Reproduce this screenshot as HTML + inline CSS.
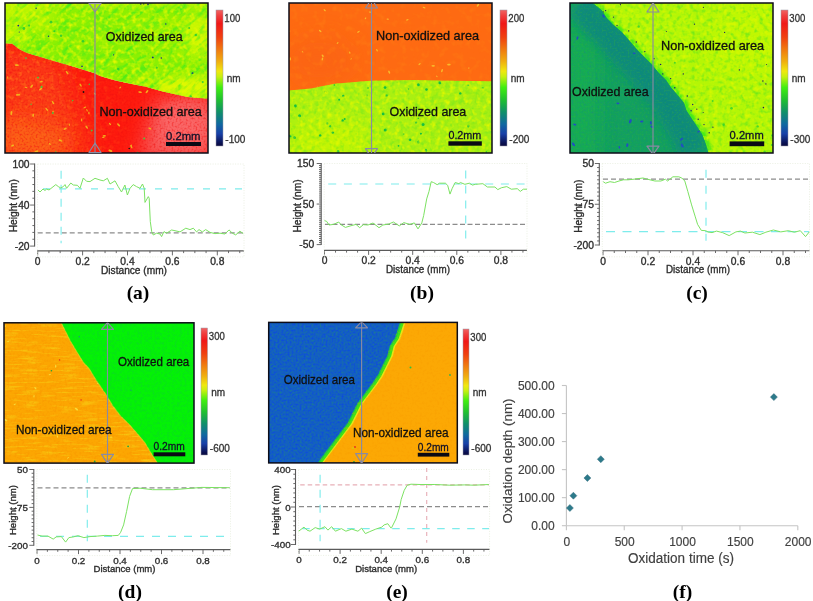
<!DOCTYPE html>
<html><head><meta charset="utf-8"><title>AFM oxidation figure</title>
<style>html,body{margin:0;padding:0;background:#fff;} svg{display:block;filter:blur(0.3px);}</style></head>
<body><svg width="813" height="601" viewBox="0 0 813 601">
<defs><clipPath id="fa"><rect x="5" y="3" width="203" height="150"/></clipPath><clipPath id="fa_top"><polygon points="5,3 208,3 208.0,98.6 205.5,98.6 188.0,97.0 174.0,94.0 161.0,91.0 147.0,87.0 127.0,83.0 113.5,80.0 100.0,76.0 94.7,73.3 81.0,69.0 67.7,65.0 54.0,61.0 40.6,57.0 27.0,53.0 19.0,49.0 12.0,43.5 5.0,43.5"/></clipPath><clipPath id="fa_bot"><polygon points="5.0,43.5 12.0,43.5 19.0,49.0 27.0,53.0 40.6,57.0 54.0,61.0 67.7,65.0 81.0,69.0 94.7,73.3 100.0,76.0 113.5,80.0 127.0,83.0 147.0,87.0 161.0,91.0 174.0,94.0 188.0,97.0 205.5,98.6 208.0,98.6 208,153 5,153"/></clipPath><filter id="bl12" x="-50%" y="-50%" width="200%" height="200%"><feGaussianBlur stdDeviation="12"/></filter><filter id="bl10" x="-50%" y="-50%" width="200%" height="200%"><feGaussianBlur stdDeviation="10"/></filter><filter id="bl6" x="-50%" y="-50%" width="200%" height="200%"><feGaussianBlur stdDeviation="6"/></filter><filter id="bl3" x="-50%" y="-50%" width="200%" height="200%"><feGaussianBlur stdDeviation="3"/></filter><filter id="bl8" x="-50%" y="-50%" width="200%" height="200%"><feGaussianBlur stdDeviation="8"/></filter><filter id="bl5" x="-50%" y="-50%" width="200%" height="200%"><feGaussianBlur stdDeviation="5"/></filter><filter id="nz1" x="0" y="0" width="1" height="1" filterUnits="objectBoundingBox" primitiveUnits="userSpaceOnUse" color-interpolation-filters="sRGB"><feTurbulence type="fractalNoise" baseFrequency="0.06 0.25" numOctaves="2" seed="3" result="n"/><feColorMatrix in="n" type="matrix" values="0 0 0 0 0.282 0 0 0 0 0.925 0 0 0 0 0.094 2.4 0 0 0 -1.05"/></filter><filter id="nz2" x="0" y="0" width="1" height="1" filterUnits="objectBoundingBox" primitiveUnits="userSpaceOnUse" color-interpolation-filters="sRGB"><feTurbulence type="fractalNoise" baseFrequency="0.22" numOctaves="2" seed="7" result="n"/><feColorMatrix in="n" type="matrix" values="0 0 0 0 0.894 0 0 0 0 0.973 0 0 0 0 0.000 2.4 0 0 0 -1.05"/></filter><linearGradient id="ma_g" gradientUnits="userSpaceOnUse" x1="50" y1="0" x2="140" y2="0"><stop offset="0" stop-color="#fff"/><stop offset="1" stop-color="#000"/></linearGradient><mask id="ma_l" maskUnits="userSpaceOnUse" x="0" y="0" width="813" height="601"><rect x="0" y="0" width="300" height="200" fill="url(#ma_g)"/></mask><filter id="nz3" x="0" y="0" width="1" height="1" filterUnits="objectBoundingBox" primitiveUnits="userSpaceOnUse" color-interpolation-filters="sRGB"><feTurbulence type="fractalNoise" baseFrequency="0.22" numOctaves="2" seed="11" result="n"/><feColorMatrix in="n" type="matrix" values="0 0 0 0 1.000 0 0 0 0 0.408 0 0 0 0 0.094 2.2 0 0 0 -1.05"/></filter><filter id="nz4" x="0" y="0" width="1" height="1" filterUnits="objectBoundingBox" primitiveUnits="userSpaceOnUse" color-interpolation-filters="sRGB"><feTurbulence type="fractalNoise" baseFrequency="0.5" numOctaves="2" seed="13" result="n"/><feColorMatrix in="n" type="matrix" values="0 0 0 0 0.941 0 0 0 0 0.063 0 0 0 0 0.063 2.2 0 0 0 -1.0"/></filter><linearGradient id="cba" x1="0" y1="0" x2="0" y2="1"><stop offset="0" stop-color="#f06464"/><stop offset="0.04" stop-color="#f04040"/><stop offset="0.1" stop-color="#f01818"/><stop offset="0.2" stop-color="#f04010"/><stop offset="0.29" stop-color="#f07a10"/><stop offset="0.38" stop-color="#f0b010"/><stop offset="0.45" stop-color="#f0e810"/><stop offset="0.49" stop-color="#c8f010"/><stop offset="0.57" stop-color="#40ee10"/><stop offset="0.66" stop-color="#20c030"/><stop offset="0.75" stop-color="#109068"/><stop offset="0.84" stop-color="#1068a0"/><stop offset="0.91" stop-color="#1840a8"/><stop offset="0.98" stop-color="#0a1050"/><stop offset="1" stop-color="#0a0a40"/></linearGradient><clipPath id="fb"><rect x="289" y="3" width="203" height="150"/></clipPath><clipPath id="fb_top"><polygon points="289,3 492,3 492.0,81.2 453.0,80.7 414.0,80.1 370.0,80.7 334.0,83.8 310.8,88.4 289.0,90.5"/></clipPath><clipPath id="fb_bot"><polygon points="289.0,90.5 310.8,88.4 334.0,83.8 370.0,80.7 414.0,80.1 453.0,80.7 492.0,81.2 492,153 289,153"/></clipPath><filter id="nz5" x="0" y="0" width="1" height="1" filterUnits="objectBoundingBox" primitiveUnits="userSpaceOnUse" color-interpolation-filters="sRGB"><feTurbulence type="fractalNoise" baseFrequency="0.2" numOctaves="2" seed="21" result="n"/><feColorMatrix in="n" type="matrix" values="0 0 0 0 0.376 0 0 0 0 0.894 0 0 0 0 0.125 2.2 0 0 0 -1.0"/></filter><filter id="nz6" x="0" y="0" width="1" height="1" filterUnits="objectBoundingBox" primitiveUnits="userSpaceOnUse" color-interpolation-filters="sRGB"><feTurbulence type="fractalNoise" baseFrequency="0.22" numOctaves="2" seed="22" result="n"/><feColorMatrix in="n" type="matrix" values="0 0 0 0 0.878 0 0 0 0 0.973 0 0 0 0 0.000 2.4 0 0 0 -1.1"/></filter><filter id="nz7" x="0" y="0" width="1" height="1" filterUnits="objectBoundingBox" primitiveUnits="userSpaceOnUse" color-interpolation-filters="sRGB"><feTurbulence type="fractalNoise" baseFrequency="0.15" numOctaves="2" seed="23" result="n"/><feColorMatrix in="n" type="matrix" values="0 0 0 0 1.000 0 0 0 0 0.478 0 0 0 0 0.078 2.4 0 0 0 -1.2"/></filter><linearGradient id="cbb" x1="0" y1="0" x2="0" y2="1"><stop offset="0" stop-color="#f06464"/><stop offset="0.04" stop-color="#f04040"/><stop offset="0.1" stop-color="#f01818"/><stop offset="0.2" stop-color="#f04010"/><stop offset="0.29" stop-color="#f07a10"/><stop offset="0.38" stop-color="#f0b010"/><stop offset="0.45" stop-color="#f0e810"/><stop offset="0.49" stop-color="#c8f010"/><stop offset="0.57" stop-color="#40ee10"/><stop offset="0.66" stop-color="#20c030"/><stop offset="0.75" stop-color="#109068"/><stop offset="0.84" stop-color="#1068a0"/><stop offset="0.91" stop-color="#1840a8"/><stop offset="0.98" stop-color="#0a1050"/><stop offset="1" stop-color="#0a0a40"/></linearGradient><clipPath id="fc"><rect x="570" y="3" width="203" height="150"/></clipPath><clipPath id="fc_l"><polygon points="570,3 592.5,3.0 601.5,10.3 606.7,18.0 613.0,24.5 622.0,32.2 629.9,41.2 637.6,50.3 645.3,58.0 651.8,64.4 658.2,72.2 666.0,80.0 671.0,87.6 678.8,96.6 684.0,103.0 686.6,110.8 691.7,118.6 696.9,126.3 702.0,134.0 705.9,144.3 708.5,153.0 570,153"/></clipPath><filter id="bl1_2" x="-50%" y="-50%" width="200%" height="200%"><feGaussianBlur stdDeviation="1.2"/></filter><clipPath id="fc_r"><polygon points="592.5,3.0 601.5,10.3 606.7,18.0 613.0,24.5 622.0,32.2 629.9,41.2 637.6,50.3 645.3,58.0 651.8,64.4 658.2,72.2 666.0,80.0 671.0,87.6 678.8,96.6 684.0,103.0 686.6,110.8 691.7,118.6 696.9,126.3 702.0,134.0 705.9,144.3 708.5,153.0 773,153 773,3"/></clipPath><filter id="nz8" x="0" y="0" width="1" height="1" filterUnits="objectBoundingBox" primitiveUnits="userSpaceOnUse" color-interpolation-filters="sRGB"><feTurbulence type="fractalNoise" baseFrequency="0.22" numOctaves="2" seed="31" result="n"/><feColorMatrix in="n" type="matrix" values="0 0 0 0 0.439 0 0 0 0 0.910 0 0 0 0 0.094 2.4 0 0 0 -1.1"/></filter><filter id="nz9" x="0" y="0" width="1" height="1" filterUnits="objectBoundingBox" primitiveUnits="userSpaceOnUse" color-interpolation-filters="sRGB"><feTurbulence type="fractalNoise" baseFrequency="0.22" numOctaves="2" seed="32" result="n"/><feColorMatrix in="n" type="matrix" values="0 0 0 0 0.847 0 0 0 0 0.973 0 0 0 0 0.000 2.4 0 0 0 -1.1"/></filter><filter id="nz10" x="0" y="0" width="1" height="1" filterUnits="objectBoundingBox" primitiveUnits="userSpaceOnUse" color-interpolation-filters="sRGB"><feTurbulence type="fractalNoise" baseFrequency="0.5" numOctaves="2" seed="33" result="n"/><feColorMatrix in="n" type="matrix" values="0 0 0 0 0.102 0 0 0 0 0.533 0 0 0 0 0.533 2.2 0 0 0 -0.95"/></filter><filter id="nz11" x="0" y="0" width="1" height="1" filterUnits="objectBoundingBox" primitiveUnits="userSpaceOnUse" color-interpolation-filters="sRGB"><feTurbulence type="fractalNoise" baseFrequency="0.5" numOctaves="2" seed="34" result="n"/><feColorMatrix in="n" type="matrix" values="0 0 0 0 0.188 0 0 0 0 0.690 0 0 0 0 0.251 2.2 0 0 0 -1.0"/></filter><linearGradient id="cbc" x1="0" y1="0" x2="0" y2="1"><stop offset="0" stop-color="#f06464"/><stop offset="0.04" stop-color="#f04040"/><stop offset="0.1" stop-color="#f01818"/><stop offset="0.2" stop-color="#f04010"/><stop offset="0.29" stop-color="#f07a10"/><stop offset="0.38" stop-color="#f0b010"/><stop offset="0.45" stop-color="#f0e810"/><stop offset="0.49" stop-color="#c8f010"/><stop offset="0.57" stop-color="#40ee10"/><stop offset="0.66" stop-color="#20c030"/><stop offset="0.75" stop-color="#109068"/><stop offset="0.84" stop-color="#1068a0"/><stop offset="0.91" stop-color="#1840a8"/><stop offset="0.98" stop-color="#0a1050"/><stop offset="1" stop-color="#0a0a40"/></linearGradient><clipPath id="fd"><rect x="4" y="322.8" width="190" height="140.3"/></clipPath><clipPath id="fd_r"><polygon points="61.2,322.8 65.0,330.5 70.0,340.5 77.4,353.0 83.7,363.0 88.7,368.0 96.2,380.4 104.9,393.0 112.4,405.4 119.9,415.4 129.9,425.3 138.6,435.3 144.8,442.8 152.3,455.3 157.3,463.1 194,463.1 194,322.8"/></clipPath><clipPath id="fd_l"><polygon points="4,322.8 61.2,322.8 65.0,330.5 70.0,340.5 77.4,353.0 83.7,363.0 88.7,368.0 96.2,380.4 104.9,393.0 112.4,405.4 119.9,415.4 129.9,425.3 138.6,435.3 144.8,442.8 152.3,455.3 157.3,463.1 4,463.1"/></clipPath><filter id="nz12" x="0" y="0" width="1" height="1" filterUnits="objectBoundingBox" primitiveUnits="userSpaceOnUse" color-interpolation-filters="sRGB"><feTurbulence type="fractalNoise" baseFrequency="0.05 0.5" numOctaves="2" seed="41" result="n"/><feColorMatrix in="n" type="matrix" values="0 0 0 0 0.973 0 0 0 0 0.784 0 0 0 0 0.063 2.6 0 0 0 -1.3"/></filter><filter id="nz13" x="0" y="0" width="1" height="1" filterUnits="objectBoundingBox" primitiveUnits="userSpaceOnUse" color-interpolation-filters="sRGB"><feTurbulence type="fractalNoise" baseFrequency="0.4" numOctaves="2" seed="42" result="n"/><feColorMatrix in="n" type="matrix" values="0 0 0 0 0.973 0 0 0 0 0.565 0 0 0 0 0.000 2.2 0 0 0 -1.05"/></filter><filter id="nz14" x="0" y="0" width="1" height="1" filterUnits="objectBoundingBox" primitiveUnits="userSpaceOnUse" color-interpolation-filters="sRGB"><feTurbulence type="fractalNoise" baseFrequency="0.4" numOctaves="2" seed="43" result="n"/><feColorMatrix in="n" type="matrix" values="0 0 0 0 0.063 0 0 0 0 0.816 0 0 0 0 0.188 2.2 0 0 0 -1.0"/></filter><linearGradient id="cbd" x1="0" y1="0" x2="0" y2="1"><stop offset="0" stop-color="#f06464"/><stop offset="0.04" stop-color="#f04040"/><stop offset="0.1" stop-color="#f01818"/><stop offset="0.2" stop-color="#f04010"/><stop offset="0.29" stop-color="#f07a10"/><stop offset="0.38" stop-color="#f0b010"/><stop offset="0.45" stop-color="#f0e810"/><stop offset="0.49" stop-color="#c8f010"/><stop offset="0.57" stop-color="#40ee10"/><stop offset="0.66" stop-color="#20c030"/><stop offset="0.75" stop-color="#109068"/><stop offset="0.84" stop-color="#1068a0"/><stop offset="0.91" stop-color="#1840a8"/><stop offset="0.98" stop-color="#0a1050"/><stop offset="1" stop-color="#0a0a40"/></linearGradient><clipPath id="fe"><rect x="268.7" y="322.4" width="188.60000000000002" height="140.5"/></clipPath><filter id="bl0_7" x="-50%" y="-50%" width="200%" height="200%"><feGaussianBlur stdDeviation="0.7"/></filter><filter id="bl0_6" x="-50%" y="-50%" width="200%" height="200%"><feGaussianBlur stdDeviation="0.6"/></filter><filter id="bl0_5" x="-50%" y="-50%" width="200%" height="200%"><feGaussianBlur stdDeviation="0.5"/></filter><clipPath id="fe_l"><polygon points="268.7,322.4 399.8,322.4 397.3,330.5 394.8,338.0 389.8,345.5 387.3,355.5 382.4,365.4 377.4,375.4 372.4,382.9 364.9,392.9 361.1,397.9 357.4,402.9 352.4,412.9 347.4,422.9 339.9,432.9 332.4,442.8 324.9,452.8 317.4,462.9 268.7,462.9"/></clipPath><filter id="nz15" x="0" y="0" width="1" height="1" filterUnits="objectBoundingBox" primitiveUnits="userSpaceOnUse" color-interpolation-filters="sRGB"><feTurbulence type="fractalNoise" baseFrequency="0.5" numOctaves="2" seed="51" result="n"/><feColorMatrix in="n" type="matrix" values="0 0 0 0 0.094 0 0 0 0 0.455 0 0 0 0 0.627 2.4 0 0 0 -0.95"/></filter><filter id="nz16" x="0" y="0" width="1" height="1" filterUnits="objectBoundingBox" primitiveUnits="userSpaceOnUse" color-interpolation-filters="sRGB"><feTurbulence type="fractalNoise" baseFrequency="0.5" numOctaves="2" seed="52" result="n"/><feColorMatrix in="n" type="matrix" values="0 0 0 0 0.047 0 0 0 0 0.298 0 0 0 0 0.863 2.4 0 0 0 -0.95"/></filter><clipPath id="fe_r"><polygon points="399.8,322.4 397.3,330.5 394.8,338.0 389.8,345.5 387.3,355.5 382.4,365.4 377.4,375.4 372.4,382.9 364.9,392.9 361.1,397.9 357.4,402.9 352.4,412.9 347.4,422.9 339.9,432.9 332.4,442.8 324.9,452.8 317.4,462.9 457.3,462.9 457.3,322.4"/></clipPath><filter id="nz17" x="0" y="0" width="1" height="1" filterUnits="objectBoundingBox" primitiveUnits="userSpaceOnUse" color-interpolation-filters="sRGB"><feTurbulence type="fractalNoise" baseFrequency="0.4" numOctaves="2" seed="53" result="n"/><feColorMatrix in="n" type="matrix" values="0 0 0 0 0.973 0 0 0 0 0.604 0 0 0 0 0.000 2.2 0 0 0 -1.1"/></filter><linearGradient id="cbe" x1="0" y1="0" x2="0" y2="1"><stop offset="0" stop-color="#f06464"/><stop offset="0.04" stop-color="#f04040"/><stop offset="0.1" stop-color="#f01818"/><stop offset="0.2" stop-color="#f04010"/><stop offset="0.29" stop-color="#f07a10"/><stop offset="0.38" stop-color="#f0b010"/><stop offset="0.45" stop-color="#f0e810"/><stop offset="0.49" stop-color="#c8f010"/><stop offset="0.57" stop-color="#40ee10"/><stop offset="0.66" stop-color="#20c030"/><stop offset="0.75" stop-color="#109068"/><stop offset="0.84" stop-color="#1068a0"/><stop offset="0.91" stop-color="#1840a8"/><stop offset="0.98" stop-color="#0a1050"/><stop offset="1" stop-color="#0a0a40"/></linearGradient></defs>
<rect width="813" height="601" fill="#fff"/>
<g clip-path="url(#fa_bot)">
<rect x="5" y="3" width="203" height="150" fill="#fe1a0e"/>
<polygon points="0.0,40.0 60.0,60.0 90.0,153.0 0.0,160.0" fill="#fc3a14" opacity="1" filter="url(#bl12)"/>
<polygon points="0.0,115.0 60.0,125.0 75.0,160.0 0.0,160.0" fill="#fc6218" opacity="1" filter="url(#bl10)"/>
<polygon points="155.0,100.0 215.0,95.0 215.0,160.0 140.0,160.0" fill="#f86262" opacity="1" filter="url(#bl10)"/>
<ellipse cx="185" cy="125" rx="25" ry="22" fill="#fa6868" opacity="0.8" filter="url(#bl6)"/>
</g>
<g clip-path="url(#fa_top)">
<rect x="5" y="3" width="203" height="150" fill="#8cf002"/>
<polygon points="0.0,0.0 215.0,0.0 215.0,6.0 0.0,6.0" fill="#d8f800" opacity="0.8" filter="url(#bl3)"/>
<ellipse cx="25" cy="15" rx="30" ry="14" fill="#c8f602" opacity="0.9" filter="url(#bl8)"/>
<ellipse cx="15" cy="38" rx="15" ry="8" fill="#d0f800" opacity="0.8" filter="url(#bl5)"/>
<ellipse cx="198" cy="35" rx="18" ry="22" fill="#d4f802" opacity="0.9" filter="url(#bl8)"/>
<ellipse cx="185" cy="88" rx="35" ry="12" fill="#e4f800" opacity="0.95" filter="url(#bl6)"/>
<ellipse cx="150" cy="80" rx="20" ry="6" fill="#c0f404" opacity="0.7" filter="url(#bl5)"/>
<ellipse cx="150" cy="30" rx="25" ry="12" fill="#a8f204" opacity="0.6" filter="url(#bl8)"/>
</g>
<g clip-path="url(#fa_top)"><g><rect x="-35" y="-37" width="283" height="230" fill="#fff" filter="url(#nz1)" opacity="1.0" transform="rotate(-40 106.5 78.0)"/></g></g>
<g clip-path="url(#fa_top)"><g><rect x="5" y="3" width="203" height="150" fill="#fff" filter="url(#nz2)" opacity="1.0"/></g></g>
<g clip-path="url(#fa_bot)"><g mask="url(#ma_l)"><rect x="5" y="3" width="203" height="150" fill="#fff" filter="url(#nz3)" opacity="1.0"/></g></g>
<g clip-path="url(#fa_bot)"><g><rect x="5" y="3" width="203" height="150" fill="#fff" filter="url(#nz4)" opacity="0.7"/></g></g>
<g clip-path="url(#fa_top)" fill="#183080" opacity="1.0"><circle cx="192.6" cy="73.1" r="0.9"/><circle cx="48.5" cy="36.3" r="0.7"/><circle cx="19.3" cy="32.0" r="0.6"/><circle cx="161.3" cy="58.0" r="0.8"/><circle cx="71.2" cy="98.6" r="0.8"/><circle cx="47.3" cy="67.5" r="0.7"/><circle cx="27.5" cy="126.5" r="0.9"/><circle cx="140.0" cy="135.4" r="0.8"/><circle cx="82.0" cy="66.4" r="0.8"/><circle cx="140.8" cy="4.0" r="0.8"/><circle cx="113.6" cy="54.8" r="0.6"/><circle cx="148.0" cy="4.4" r="0.8"/><circle cx="36.1" cy="8.2" r="0.7"/><circle cx="18.3" cy="25.6" r="0.9"/><circle cx="152.8" cy="57.4" r="0.9"/><circle cx="101.5" cy="77.8" r="1.0"/><circle cx="68.2" cy="133.5" r="0.9"/><circle cx="143.7" cy="3.9" r="0.6"/><circle cx="11.5" cy="54.9" r="1.0"/><circle cx="148.3" cy="119.2" r="0.9"/><circle cx="165.8" cy="24.0" r="0.7"/><circle cx="95.6" cy="136.4" r="0.7"/></g>
<g clip-path="url(#fa_top)" fill="#20c838" opacity="0.8"><circle cx="35.1" cy="95.4" r="0.9"/><circle cx="149.6" cy="94.2" r="1.1"/><circle cx="130.4" cy="87.9" r="0.8"/><circle cx="112.6" cy="95.9" r="1.2"/><circle cx="51.0" cy="22.2" r="1.4"/><circle cx="145.0" cy="94.4" r="1.2"/><circle cx="34.5" cy="96.2" r="1.3"/><circle cx="72.6" cy="106.1" r="1.2"/><circle cx="156.8" cy="67.7" r="1.1"/><circle cx="189.2" cy="28.1" r="1.0"/><circle cx="124.5" cy="97.7" r="1.1"/><circle cx="118.3" cy="69.1" r="1.3"/><circle cx="100.4" cy="145.1" r="1.2"/><circle cx="132.0" cy="133.3" r="1.3"/><circle cx="84.3" cy="114.5" r="1.3"/><circle cx="190.7" cy="96.5" r="1.2"/><circle cx="202.7" cy="82.1" r="1.1"/><circle cx="19.7" cy="131.7" r="1.5"/><circle cx="83.0" cy="41.2" r="1.3"/><circle cx="195.8" cy="35.0" r="1.2"/><circle cx="34.0" cy="75.0" r="1.0"/><circle cx="21.4" cy="61.4" r="0.9"/><circle cx="29.1" cy="25.6" r="1.1"/><circle cx="69.5" cy="112.2" r="1.1"/><circle cx="54.4" cy="31.2" r="1.0"/><circle cx="176.1" cy="99.4" r="1.0"/><circle cx="23.9" cy="28.5" r="1.4"/><circle cx="84.1" cy="128.6" r="1.6"/><circle cx="191.6" cy="73.4" r="0.8"/><circle cx="61.1" cy="35.8" r="1.3"/></g>
<g clip-path="url(#fa_bot)" fill="#f0d820" opacity="0.75"><ellipse cx="147.0" cy="91.6" rx="1.9" ry="0.9" transform="rotate(132 147.0 91.6)"/><ellipse cx="36.2" cy="48.8" rx="1.8" ry="0.8" transform="rotate(22 36.2 48.8)"/><ellipse cx="60.4" cy="140.5" rx="2.1" ry="0.9" transform="rotate(21 60.4 140.5)"/><ellipse cx="16.9" cy="65.1" rx="2.0" ry="0.9" transform="rotate(4 16.9 65.1)"/><ellipse cx="37.7" cy="52.1" rx="1.2" ry="0.6" transform="rotate(94 37.7 52.1)"/><ellipse cx="31.6" cy="86.3" rx="1.9" ry="0.9" transform="rotate(130 31.6 86.3)"/><ellipse cx="65.2" cy="128.8" rx="1.7" ry="0.8" transform="rotate(149 65.2 128.8)"/><ellipse cx="41.1" cy="81.7" rx="1.7" ry="0.8" transform="rotate(170 41.1 81.7)"/><ellipse cx="94.7" cy="93.6" rx="1.4" ry="0.6" transform="rotate(51 94.7 93.6)"/><ellipse cx="36.3" cy="151.5" rx="2.1" ry="0.9" transform="rotate(161 36.3 151.5)"/><ellipse cx="81.6" cy="120.0" rx="1.4" ry="0.6" transform="rotate(87 81.6 120.0)"/><ellipse cx="26.1" cy="87.5" rx="1.4" ry="0.6" transform="rotate(18 26.1 87.5)"/><ellipse cx="138.3" cy="50.9" rx="2.0" ry="0.9" transform="rotate(126 138.3 50.9)"/><ellipse cx="18.1" cy="94.8" rx="2.2" ry="1.0" transform="rotate(178 18.1 94.8)"/><ellipse cx="86.7" cy="127.2" rx="1.9" ry="0.9" transform="rotate(53 86.7 127.2)"/><ellipse cx="84.7" cy="107.5" rx="1.5" ry="0.7" transform="rotate(147 84.7 107.5)"/><ellipse cx="69.4" cy="124.7" rx="1.2" ry="0.5" transform="rotate(80 69.4 124.7)"/><ellipse cx="11.4" cy="113.1" rx="2.1" ry="0.9" transform="rotate(98 11.4 113.1)"/><ellipse cx="87.0" cy="110.3" rx="1.4" ry="0.6" transform="rotate(70 87.0 110.3)"/><ellipse cx="88.9" cy="113.0" rx="1.5" ry="0.7" transform="rotate(86 88.9 113.0)"/><ellipse cx="53.0" cy="102.6" rx="1.8" ry="0.8" transform="rotate(59 53.0 102.6)"/><ellipse cx="104.3" cy="135.9" rx="1.7" ry="0.8" transform="rotate(176 104.3 135.9)"/><ellipse cx="49.9" cy="143.9" rx="1.3" ry="0.6" transform="rotate(65 49.9 143.9)"/><ellipse cx="131.3" cy="146.7" rx="1.9" ry="0.8" transform="rotate(62 131.3 146.7)"/><ellipse cx="53.2" cy="111.3" rx="1.2" ry="0.5" transform="rotate(5 53.2 111.3)"/><ellipse cx="67.2" cy="72.7" rx="2.1" ry="0.9" transform="rotate(52 67.2 72.7)"/><ellipse cx="110.0" cy="124.0" rx="1.5" ry="0.7" transform="rotate(45 110.0 124.0)"/><ellipse cx="80.6" cy="85.2" rx="1.8" ry="0.8" transform="rotate(59 80.6 85.2)"/><ellipse cx="120.2" cy="87.5" rx="1.2" ry="0.6" transform="rotate(139 120.2 87.5)"/><ellipse cx="131.4" cy="145.5" rx="1.1" ry="0.5" transform="rotate(88 131.4 145.5)"/><ellipse cx="7.8" cy="77.7" rx="1.4" ry="0.6" transform="rotate(83 7.8 77.7)"/><ellipse cx="103.2" cy="137.3" rx="1.4" ry="0.6" transform="rotate(2 103.2 137.3)"/><ellipse cx="149.9" cy="128.4" rx="1.7" ry="0.8" transform="rotate(20 149.9 128.4)"/><ellipse cx="12.6" cy="145.6" rx="1.7" ry="0.8" transform="rotate(155 12.6 145.6)"/><ellipse cx="118.6" cy="124.9" rx="2.0" ry="0.9" transform="rotate(46 118.6 124.9)"/><ellipse cx="40.7" cy="89.0" rx="1.9" ry="0.9" transform="rotate(143 40.7 89.0)"/><ellipse cx="33.2" cy="115.3" rx="1.8" ry="0.8" transform="rotate(93 33.2 115.3)"/><ellipse cx="110.4" cy="150.7" rx="2.1" ry="1.0" transform="rotate(19 110.4 150.7)"/><ellipse cx="46.7" cy="109.3" rx="1.9" ry="0.8" transform="rotate(51 46.7 109.3)"/><ellipse cx="140.0" cy="92.1" rx="1.9" ry="0.9" transform="rotate(9 140.0 92.1)"/></g>
<g clip-path="url(#fa_bot)" fill="#40d040" opacity="0.9"><circle cx="144.2" cy="138.5" r="1.0"/><circle cx="38.0" cy="77.4" r="1.0"/><circle cx="134.8" cy="53.3" r="1.0"/><circle cx="52.8" cy="112.9" r="1.0"/><circle cx="89.3" cy="84.2" r="0.8"/><circle cx="72.6" cy="100.6" r="0.8"/><circle cx="31.1" cy="104.2" r="0.7"/><circle cx="91.7" cy="130.6" r="1.0"/><circle cx="41.6" cy="86.9" r="1.1"/><circle cx="55.7" cy="152.0" r="0.8"/><circle cx="126.9" cy="44.6" r="1.0"/><circle cx="137.5" cy="152.6" r="0.8"/><circle cx="80.8" cy="44.5" r="0.9"/><circle cx="26.0" cy="58.1" r="0.9"/></g>
<g clip-path="url(#fa_bot)" fill="#201010" opacity="1.0"><circle cx="183.3" cy="79.5" r="0.8"/><circle cx="198.2" cy="75.3" r="0.8"/><circle cx="72.9" cy="58.5" r="0.7"/><circle cx="157.5" cy="56.7" r="0.8"/><circle cx="76.3" cy="59.1" r="0.7"/><circle cx="83.5" cy="92.0" r="0.9"/><circle cx="191.8" cy="65.7" r="0.9"/><circle cx="129.2" cy="148.5" r="0.8"/></g>
<rect x="5" y="3" width="203" height="150" fill="none" stroke="#0c0c18" stroke-width="1.5"/>
<g clip-path="url(#fa)">
<line x1="95" y1="3.5" x2="95" y2="152.5" stroke="#8a8aa2" stroke-width="1.15"/>
<polygon points="89,3.5 101,3.5 95,11.8" fill="none" stroke="#8a8aa2" stroke-width="1.2" stroke-linejoin="round"/>
<polygon points="89,152.5 101,152.5 95,143" fill="none" stroke="#8a8aa2" stroke-width="1.2" stroke-linejoin="round"/>
</g>
<text x="105.8" y="41.1" font-size="12.4" fill="#101010" text-anchor="start" font-family='"Liberation Sans", sans-serif' font-weight="normal" textLength="76.8" lengthAdjust="spacingAndGlyphs" stroke="#101010" stroke-width="0.3" >Oxidized area</text>
<text x="99.4" y="116.3" font-size="12.4" fill="#101010" text-anchor="start" font-family='"Liberation Sans", sans-serif' font-weight="normal" textLength="102.4" lengthAdjust="spacingAndGlyphs" stroke="#101010" stroke-width="0.3" >Non-oxidized area</text>
<rect x="166" y="142" width="35" height="4" fill="#0a0a14"/>
<text x="166" y="139.9" font-size="11.5" fill="#101028" text-anchor="start" font-family='"Liberation Sans", sans-serif' font-weight="normal" textLength="34.5" lengthAdjust="spacingAndGlyphs" stroke="#101028" stroke-width="0.3" >0.2mm</text>
<rect x="216" y="10" width="7" height="136" fill="url(#cba)" stroke="#9a9aa8" stroke-width="0.5"/>
<text x="224.3" y="21.7" font-size="10.5" fill="#333" text-anchor="start" font-family='"Liberation Sans", sans-serif' font-weight="normal" textLength="16" lengthAdjust="spacingAndGlyphs" stroke="#333" stroke-width="0.3" >100</text>
<text x="226.7" y="82.0" font-size="10" fill="#333" text-anchor="start" font-family='"Liberation Sans", sans-serif' font-weight="normal" stroke="#333" stroke-width="0.3" >nm</text>
<text x="225.3" y="142.7" font-size="10" fill="#333" text-anchor="start" font-family='"Liberation Sans", sans-serif' font-weight="normal" stroke="#333" stroke-width="0.3" >-100</text>
<rect x="289" y="3" width="203" height="150" fill="#aaf012"/>
<g clip-path="url(#fb)">
<ellipse cx="330" cy="140" rx="40" ry="20" fill="#c8f604" opacity="0.8" filter="url(#bl10)"/>
<ellipse cx="470" cy="110" rx="40" ry="20" fill="#a0ec14" opacity="0.5" filter="url(#bl10)"/>
</g>
<g clip-path="url(#fb_top)">
<rect x="289" y="3" width="203" height="150" fill="#fe6a12"/>
<ellipse cx="320" cy="60" rx="35" ry="25" fill="#fa6016" opacity="0.5" filter="url(#bl10)"/>
</g>
<g clip-path="url(#fb_bot)"><g><rect x="289" y="3" width="203" height="150" fill="#fff" filter="url(#nz5)" opacity="0.6"/></g></g>
<g clip-path="url(#fb_bot)" fill="#18c040" opacity="1.0"><circle cx="403.7" cy="134.1" r="0.8"/><circle cx="468.3" cy="126.1" r="1.3"/><circle cx="426.5" cy="89.6" r="1.3"/><circle cx="410.0" cy="139.8" r="1.4"/><circle cx="423.1" cy="124.5" r="1.5"/><circle cx="325.2" cy="92.0" r="1.3"/><circle cx="425.9" cy="150.4" r="1.3"/><circle cx="398.5" cy="145.8" r="0.9"/><circle cx="338.1" cy="151.5" r="1.3"/><circle cx="418.3" cy="118.2" r="0.8"/><circle cx="366.8" cy="95.6" r="1.0"/><circle cx="385.1" cy="87.6" r="1.4"/><circle cx="317.8" cy="80.2" r="1.2"/><circle cx="343.3" cy="96.0" r="1.3"/><circle cx="418.5" cy="142.0" r="1.5"/><circle cx="344.7" cy="119.1" r="1.0"/><circle cx="339.1" cy="99.7" r="1.0"/><circle cx="385.2" cy="130.1" r="1.5"/><circle cx="468.3" cy="85.0" r="1.0"/><circle cx="334.3" cy="85.0" r="0.8"/><circle cx="332.8" cy="132.6" r="1.2"/><circle cx="408.6" cy="89.1" r="0.8"/><circle cx="290.2" cy="135.9" r="1.4"/><circle cx="420.9" cy="133.8" r="1.1"/><circle cx="386.7" cy="95.8" r="1.4"/><circle cx="294.6" cy="137.7" r="1.4"/><circle cx="330.2" cy="126.3" r="1.1"/><circle cx="460.3" cy="93.4" r="1.2"/><circle cx="342.6" cy="120.4" r="1.2"/><circle cx="418.3" cy="84.8" r="1.5"/><circle cx="482.8" cy="88.0" r="1.1"/><circle cx="320.2" cy="135.4" r="1.2"/><circle cx="327.1" cy="123.8" r="1.4"/><circle cx="295.4" cy="106.0" r="1.4"/><circle cx="368.1" cy="88.0" r="0.9"/><circle cx="486.3" cy="152.0" r="0.8"/><circle cx="439.8" cy="82.9" r="1.4"/><circle cx="383.2" cy="113.9" r="1.4"/><circle cx="416.1" cy="122.6" r="1.1"/><circle cx="299.6" cy="115.8" r="1.5"/></g>
<g clip-path="url(#fb_bot)"><g><rect x="289" y="3" width="203" height="150" fill="#fff" filter="url(#nz6)" opacity="1.0"/></g></g>
<g clip-path="url(#fb_top)"><g><rect x="289" y="3" width="203" height="150" fill="#fff" filter="url(#nz7)" opacity="0.8"/></g></g>
<g clip-path="url(#fb_top)" fill="#f8c830" opacity="0.85"><ellipse cx="302.6" cy="51.8" rx="1.0" ry="0.5" transform="rotate(51 302.6 51.8)"/><ellipse cx="442.0" cy="70.7" rx="1.7" ry="0.8" transform="rotate(110 442.0 70.7)"/><ellipse cx="317.3" cy="88.0" rx="1.4" ry="0.7" transform="rotate(96 317.3 88.0)"/><ellipse cx="332.7" cy="107.3" rx="1.2" ry="0.6" transform="rotate(54 332.7 107.3)"/><ellipse cx="337.6" cy="43.0" rx="1.1" ry="0.6" transform="rotate(136 337.6 43.0)"/><ellipse cx="424.1" cy="7.6" rx="1.5" ry="0.7" transform="rotate(14 424.1 7.6)"/><ellipse cx="419.6" cy="64.1" rx="1.4" ry="0.7" transform="rotate(137 419.6 64.1)"/><ellipse cx="308.2" cy="90.6" rx="1.4" ry="0.7" transform="rotate(161 308.2 90.6)"/><ellipse cx="433.2" cy="65.8" rx="1.8" ry="0.9" transform="rotate(2 433.2 65.8)"/><ellipse cx="373.0" cy="129.4" rx="1.8" ry="0.9" transform="rotate(91 373.0 129.4)"/><ellipse cx="340.1" cy="91.7" rx="1.3" ry="0.6" transform="rotate(125 340.1 91.7)"/><ellipse cx="358.5" cy="31.8" rx="1.5" ry="0.7" transform="rotate(139 358.5 31.8)"/><ellipse cx="388.5" cy="91.9" rx="1.5" ry="0.7" transform="rotate(94 388.5 91.9)"/><ellipse cx="290.2" cy="58.9" rx="1.7" ry="0.8" transform="rotate(92 290.2 58.9)"/><ellipse cx="436.8" cy="76.4" rx="1.0" ry="0.5" transform="rotate(39 436.8 76.4)"/><ellipse cx="389.2" cy="72.2" rx="1.7" ry="0.8" transform="rotate(64 389.2 72.2)"/><ellipse cx="448.9" cy="64.7" rx="1.8" ry="0.9" transform="rotate(176 448.9 64.7)"/><ellipse cx="321.8" cy="125.6" rx="1.1" ry="0.5" transform="rotate(60 321.8 125.6)"/><ellipse cx="468.8" cy="68.1" rx="1.0" ry="0.5" transform="rotate(1 468.8 68.1)"/><ellipse cx="489.4" cy="131.8" rx="1.8" ry="0.9" transform="rotate(61 489.4 131.8)"/><ellipse cx="350.9" cy="105.9" rx="1.0" ry="0.5" transform="rotate(108 350.9 105.9)"/><ellipse cx="320.2" cy="31.0" rx="1.6" ry="0.8" transform="rotate(43 320.2 31.0)"/><ellipse cx="489.8" cy="103.4" rx="1.5" ry="0.7" transform="rotate(116 489.8 103.4)"/><ellipse cx="337.6" cy="146.7" rx="1.0" ry="0.5" transform="rotate(163 337.6 146.7)"/><ellipse cx="397.2" cy="93.3" rx="1.4" ry="0.7" transform="rotate(70 397.2 93.3)"/><ellipse cx="322.7" cy="55.8" rx="1.5" ry="0.8" transform="rotate(56 322.7 55.8)"/><ellipse cx="307.9" cy="130.0" rx="1.4" ry="0.7" transform="rotate(24 307.9 130.0)"/><ellipse cx="396.4" cy="85.4" rx="1.6" ry="0.8" transform="rotate(86 396.4 85.4)"/><ellipse cx="477.9" cy="5.2" rx="1.7" ry="0.9" transform="rotate(127 477.9 5.2)"/><ellipse cx="365.5" cy="18.3" rx="1.1" ry="0.6" transform="rotate(127 365.5 18.3)"/><ellipse cx="424.2" cy="82.5" rx="1.1" ry="0.5" transform="rotate(18 424.2 82.5)"/><ellipse cx="387.7" cy="19.2" rx="1.2" ry="0.6" transform="rotate(5 387.7 19.2)"/><ellipse cx="334.9" cy="85.8" rx="1.6" ry="0.8" transform="rotate(2 334.9 85.8)"/><ellipse cx="349.8" cy="52.7" rx="1.2" ry="0.6" transform="rotate(73 349.8 52.7)"/><ellipse cx="289.2" cy="31.3" rx="1.2" ry="0.6" transform="rotate(154 289.2 31.3)"/><ellipse cx="349.6" cy="106.5" rx="1.6" ry="0.8" transform="rotate(125 349.6 106.5)"/><ellipse cx="377.0" cy="50.2" rx="1.4" ry="0.7" transform="rotate(65 377.0 50.2)"/><ellipse cx="351.1" cy="58.9" rx="1.0" ry="0.5" transform="rotate(109 351.1 58.9)"/><ellipse cx="370.0" cy="12.1" rx="1.3" ry="0.6" transform="rotate(12 370.0 12.1)"/><ellipse cx="390.7" cy="85.5" rx="1.8" ry="0.9" transform="rotate(27 390.7 85.5)"/><ellipse cx="405.1" cy="121.7" rx="1.2" ry="0.6" transform="rotate(82 405.1 121.7)"/><ellipse cx="407.3" cy="19.8" rx="1.4" ry="0.7" transform="rotate(163 407.3 19.8)"/><ellipse cx="337.4" cy="104.5" rx="1.3" ry="0.6" transform="rotate(165 337.4 104.5)"/><ellipse cx="353.5" cy="132.9" rx="1.6" ry="0.8" transform="rotate(69 353.5 132.9)"/><ellipse cx="434.0" cy="138.1" rx="1.6" ry="0.8" transform="rotate(51 434.0 138.1)"/><ellipse cx="312.7" cy="92.1" rx="1.6" ry="0.8" transform="rotate(110 312.7 92.1)"/><ellipse cx="336.6" cy="101.1" rx="1.6" ry="0.8" transform="rotate(70 336.6 101.1)"/><ellipse cx="292.8" cy="145.8" rx="1.6" ry="0.8" transform="rotate(24 292.8 145.8)"/><ellipse cx="322.4" cy="59.0" rx="1.5" ry="0.7" transform="rotate(105 322.4 59.0)"/><ellipse cx="373.6" cy="131.6" rx="1.4" ry="0.7" transform="rotate(107 373.6 131.6)"/><ellipse cx="431.4" cy="128.8" rx="1.1" ry="0.6" transform="rotate(15 431.4 128.8)"/><ellipse cx="384.6" cy="127.8" rx="1.7" ry="0.9" transform="rotate(97 384.6 127.8)"/><ellipse cx="319.2" cy="99.0" rx="1.7" ry="0.8" transform="rotate(135 319.2 99.0)"/><ellipse cx="324.7" cy="10.2" rx="1.4" ry="0.7" transform="rotate(43 324.7 10.2)"/><ellipse cx="354.3" cy="115.3" rx="1.6" ry="0.8" transform="rotate(103 354.3 115.3)"/></g>
<rect x="289" y="3" width="203" height="150" fill="none" stroke="#0c0c18" stroke-width="1.5"/>
<g clip-path="url(#fb)">
<line x1="371.5" y1="-1" x2="371.5" y2="157.5" stroke="#8a8aa2" stroke-width="1.15"/>
<polygon points="365.5,8 377.5,8 371.5,-1" fill="none" stroke="#8a8aa2" stroke-width="1.2" stroke-linejoin="round"/>
<polygon points="365.5,148.6 377.5,148.6 371.5,157.5" fill="none" stroke="#8a8aa2" stroke-width="1.2" stroke-linejoin="round"/>
</g>
<text x="376" y="40.4" font-size="12.4" fill="#101010" text-anchor="start" font-family='"Liberation Sans", sans-serif' font-weight="normal" textLength="103" lengthAdjust="spacingAndGlyphs" stroke="#101010" stroke-width="0.3" >Non-oxidized area</text>
<text x="389.5" y="115.5" font-size="12.4" fill="#101010" text-anchor="start" font-family='"Liberation Sans", sans-serif' font-weight="normal" textLength="76.8" lengthAdjust="spacingAndGlyphs" stroke="#101010" stroke-width="0.3" >Oxidized area</text>
<rect x="448.4" y="141.3" width="33.400000000000034" height="4.399999999999977" fill="#0a0a14"/>
<text x="448.4" y="139.20000000000002" font-size="11.5" fill="#101028" text-anchor="start" font-family='"Liberation Sans", sans-serif' font-weight="normal" textLength="32.900000000000034" lengthAdjust="spacingAndGlyphs" stroke="#101028" stroke-width="0.3" >0.2mm</text>
<rect x="500" y="10" width="7" height="136" fill="url(#cbb)" stroke="#9a9aa8" stroke-width="0.5"/>
<text x="508.3" y="21.7" font-size="10.5" fill="#333" text-anchor="start" font-family='"Liberation Sans", sans-serif' font-weight="normal" textLength="16" lengthAdjust="spacingAndGlyphs" stroke="#333" stroke-width="0.3" >200</text>
<text x="510.7" y="82.0" font-size="10" fill="#333" text-anchor="start" font-family='"Liberation Sans", sans-serif' font-weight="normal" stroke="#333" stroke-width="0.3" >nm</text>
<text x="509.3" y="142.7" font-size="10" fill="#333" text-anchor="start" font-family='"Liberation Sans", sans-serif' font-weight="normal" stroke="#333" stroke-width="0.3" >-200</text>
<rect x="570" y="3" width="203" height="150" fill="#b4f606"/>
<g clip-path="url(#fc)">
<polyline points="594.0,3.0 603.0,10.3 608.2,18.0 614.5,24.5 623.5,32.2 631.4,41.2 639.1,50.3 646.8,58.0 653.3,64.4 659.7,72.2 667.5,80.0 672.5,87.6 680.3,96.6 685.5,103.0 688.1,110.8 693.2,118.6 698.4,126.3 703.5,134.0 707.4,144.3 710.0,153.0" fill="none" stroke="#44ec14" stroke-width="5" filter="url(#bl1_2)"/>
<ellipse cx="750" cy="40" rx="40" ry="40" fill="#c4f804" opacity="0.8" filter="url(#bl12)"/>
</g>
<g clip-path="url(#fc_r)"><g><rect x="570" y="3" width="203" height="150" fill="#fff" filter="url(#nz8)" opacity="1.0"/></g></g>
<g clip-path="url(#fc_r)"><g><rect x="570" y="3" width="203" height="150" fill="#fff" filter="url(#nz9)" opacity="1.0"/></g></g>
<g clip-path="url(#fc_l)">
<rect x="570" y="3" width="203" height="150" fill="#12a25e"/>
<polygon points="560.0,0.0 600.0,0.0 600.0,160.0 560.0,160.0" fill="#12ae52" opacity="0.9" filter="url(#bl8)"/>
<ellipse cx="590" cy="10" rx="25" ry="14" fill="#14b250" opacity="0.8" filter="url(#bl6)"/>
<polyline points="576.5,3.0 585.5,10.3 590.7,18.0 597.0,24.5 606.0,32.2 613.9,41.2 621.6,50.3 629.3,58.0 635.8,64.4 642.2,72.2 650.0,80.0 655.0,87.6 662.8,96.6 668.0,103.0 670.6,110.8 675.7,118.6 680.9,126.3 686.0,134.0 689.9,144.3 692.5,153.0" fill="none" stroke="#0a8a7e" stroke-width="30" filter="url(#bl5)" opacity="0.95"/>
</g>
<g clip-path="url(#fc_l)"><g><rect x="570" y="3" width="203" height="150" fill="#fff" filter="url(#nz10)" opacity="0.5"/></g></g>
<g clip-path="url(#fc_l)"><g><rect x="570" y="3" width="203" height="150" fill="#fff" filter="url(#nz11)" opacity="0.5"/></g></g>
<g clip-path="url(#fc_l)" fill="#2050c0" opacity="1.0"><ellipse cx="650.9" cy="122.9" rx="1.8" ry="1.0" transform="rotate(83 650.9 122.9)"/><ellipse cx="617.9" cy="103.3" rx="1.5" ry="0.9" transform="rotate(175 617.9 103.3)"/><ellipse cx="619.4" cy="147.3" rx="1.4" ry="0.8" transform="rotate(80 619.4 147.3)"/><ellipse cx="682.2" cy="145.6" rx="2.2" ry="1.2" transform="rotate(56 682.2 145.6)"/><ellipse cx="698.6" cy="131.7" rx="1.4" ry="0.8" transform="rotate(147 698.6 131.7)"/><ellipse cx="719.8" cy="71.6" rx="2.3" ry="1.3" transform="rotate(139 719.8 71.6)"/><ellipse cx="573.5" cy="144.4" rx="2.1" ry="1.2" transform="rotate(51 573.5 144.4)"/><ellipse cx="765.8" cy="27.4" rx="2.3" ry="1.3" transform="rotate(107 765.8 27.4)"/><ellipse cx="574.8" cy="124.6" rx="1.6" ry="0.9" transform="rotate(13 574.8 124.6)"/><ellipse cx="603.5" cy="16.1" rx="1.7" ry="1.0" transform="rotate(52 603.5 16.1)"/><ellipse cx="756.5" cy="60.6" rx="1.4" ry="0.8" transform="rotate(1 756.5 60.6)"/><ellipse cx="713.5" cy="19.2" rx="2.3" ry="1.3" transform="rotate(135 713.5 19.2)"/><ellipse cx="685.4" cy="88.9" rx="1.6" ry="0.9" transform="rotate(163 685.4 88.9)"/><ellipse cx="632.9" cy="24.7" rx="1.9" ry="1.0" transform="rotate(156 632.9 24.7)"/><ellipse cx="766.8" cy="59.9" rx="1.5" ry="0.8" transform="rotate(83 766.8 59.9)"/><ellipse cx="630.3" cy="121.2" rx="2.3" ry="1.3" transform="rotate(112 630.3 121.2)"/><ellipse cx="627.3" cy="145.1" rx="1.9" ry="1.1" transform="rotate(100 627.3 145.1)"/><ellipse cx="652.0" cy="126.9" rx="1.6" ry="0.9" transform="rotate(29 652.0 126.9)"/><ellipse cx="642.7" cy="50.6" rx="1.4" ry="0.8" transform="rotate(23 642.7 50.6)"/><ellipse cx="702.0" cy="129.0" rx="2.0" ry="1.1" transform="rotate(11 702.0 129.0)"/><ellipse cx="733.6" cy="7.1" rx="1.7" ry="0.9" transform="rotate(151 733.6 7.1)"/><ellipse cx="681.6" cy="139.3" rx="1.8" ry="1.0" transform="rotate(139 681.6 139.3)"/><ellipse cx="650.5" cy="54.3" rx="1.9" ry="1.1" transform="rotate(86 650.5 54.3)"/><ellipse cx="641.7" cy="121.5" rx="1.7" ry="0.9" transform="rotate(170 641.7 121.5)"/><ellipse cx="674.4" cy="65.1" rx="2.3" ry="1.3" transform="rotate(96 674.4 65.1)"/><ellipse cx="577.4" cy="38.1" rx="1.6" ry="0.9" transform="rotate(110 577.4 38.1)"/><ellipse cx="663.0" cy="65.3" rx="1.6" ry="0.9" transform="rotate(142 663.0 65.3)"/><ellipse cx="642.5" cy="31.1" rx="1.5" ry="0.8" transform="rotate(142 642.5 31.1)"/><ellipse cx="634.2" cy="53.3" rx="1.4" ry="0.8" transform="rotate(7 634.2 53.3)"/><ellipse cx="764.2" cy="7.3" rx="1.5" ry="0.9" transform="rotate(42 764.2 7.3)"/></g>
<g clip-path="url(#fc_r)" fill="#202060" opacity="1.0"><circle cx="765.9" cy="83.9" r="0.7"/><circle cx="666.4" cy="31.4" r="0.5"/><circle cx="650.7" cy="78.6" r="0.7"/><circle cx="638.9" cy="148.5" r="0.5"/><circle cx="703.4" cy="7.3" r="0.6"/><circle cx="595.9" cy="149.7" r="0.7"/><circle cx="682.5" cy="132.4" r="0.8"/><circle cx="646.6" cy="132.3" r="0.6"/><circle cx="712.9" cy="127.2" r="0.6"/><circle cx="703.2" cy="112.5" r="0.5"/><circle cx="724.6" cy="32.4" r="0.6"/><circle cx="619.0" cy="45.7" r="0.8"/><circle cx="658.0" cy="131.5" r="0.5"/><circle cx="620.4" cy="4.7" r="0.6"/><circle cx="762.9" cy="81.0" r="0.7"/><circle cx="603.2" cy="11.9" r="0.6"/><circle cx="763.4" cy="107.6" r="0.8"/><circle cx="694.4" cy="24.2" r="0.6"/><circle cx="581.8" cy="141.7" r="0.5"/><circle cx="766.5" cy="64.6" r="0.5"/><circle cx="696.8" cy="109.2" r="0.6"/><circle cx="666.6" cy="103.1" r="0.6"/><circle cx="633.4" cy="107.8" r="0.6"/><circle cx="739.4" cy="69.9" r="0.7"/><circle cx="683.3" cy="73.9" r="0.7"/></g>
<g fill="#1c1c70"><circle cx="605.6" cy="10.6" r="0.7"/><circle cx="613.5" cy="17.1" r="0.7"/><circle cx="617.0" cy="25.6" r="0.7"/><circle cx="628.7" cy="30.9" r="0.7"/><circle cx="636.3" cy="42.0" r="0.7"/><circle cx="644.8" cy="51.6" r="0.7"/><circle cx="654.0" cy="58.7" r="0.7"/><circle cx="660.6" cy="64.4" r="0.7"/><circle cx="662.8" cy="73.9" r="0.7"/><circle cx="670.6" cy="78.6" r="0.7"/><circle cx="674.8" cy="87.8" r="0.7"/><circle cx="687.3" cy="96.0" r="0.7"/><circle cx="692.7" cy="104.5" r="0.7"/><circle cx="691.1" cy="110.8" r="0.7"/><circle cx="698.2" cy="119.2" r="0.7"/><circle cx="704.0" cy="124.6" r="0.7"/><circle cx="709.2" cy="132.7" r="0.7"/></g>
<g clip-path="url(#fc_r)" fill="#30d030" opacity="0.8"><circle cx="576.4" cy="148.3" r="0.9"/><circle cx="771.9" cy="145.0" r="1.0"/><circle cx="674.8" cy="62.7" r="1.0"/><circle cx="680.4" cy="105.9" r="1.2"/><circle cx="594.7" cy="61.7" r="1.1"/><circle cx="757.6" cy="126.4" r="1.2"/><circle cx="626.9" cy="143.8" r="0.9"/><circle cx="638.6" cy="26.5" r="1.2"/><circle cx="731.5" cy="108.3" r="1.3"/><circle cx="712.6" cy="101.0" r="1.0"/><circle cx="764.6" cy="151.6" r="1.2"/><circle cx="772.4" cy="135.5" r="1.3"/><circle cx="723.6" cy="124.8" r="1.2"/><circle cx="595.9" cy="128.6" r="1.0"/><circle cx="700.7" cy="137.9" r="1.1"/></g>
<rect x="570" y="3" width="203" height="150" fill="none" stroke="#0c0c18" stroke-width="1.5"/>
<g clip-path="url(#fc)">
<line x1="653" y1="3" x2="653" y2="154.5" stroke="#8a8aa2" stroke-width="1.15"/>
<polygon points="647,12 659,12 653,3" fill="none" stroke="#8a8aa2" stroke-width="1.2" stroke-linejoin="round"/>
<polygon points="647,146.2 659,146.2 653,154.5" fill="none" stroke="#8a8aa2" stroke-width="1.2" stroke-linejoin="round"/>
</g>
<text x="661" y="49.8" font-size="12.4" fill="#101010" text-anchor="start" font-family='"Liberation Sans", sans-serif' font-weight="normal" textLength="103.2" lengthAdjust="spacingAndGlyphs" stroke="#101010" stroke-width="0.3" >Non-oxidized area</text>
<text x="572" y="95.6" font-size="12.4" fill="#101010" text-anchor="start" font-family='"Liberation Sans", sans-serif' font-weight="normal" textLength="76.7" lengthAdjust="spacingAndGlyphs" stroke="#101010" stroke-width="0.3" >Oxidized area</text>
<rect x="729.6" y="141.4" width="34.60000000000002" height="4.799999999999983" fill="#0a0a14"/>
<text x="729.6" y="139.3" font-size="11.5" fill="#101028" text-anchor="start" font-family='"Liberation Sans", sans-serif' font-weight="normal" textLength="34.10000000000002" lengthAdjust="spacingAndGlyphs" stroke="#101028" stroke-width="0.3" >0.2mm</text>
<rect x="781" y="10" width="7" height="136" fill="url(#cbc)" stroke="#9a9aa8" stroke-width="0.5"/>
<text x="789.3" y="21.7" font-size="10.5" fill="#333" text-anchor="start" font-family='"Liberation Sans", sans-serif' font-weight="normal" textLength="16" lengthAdjust="spacingAndGlyphs" stroke="#333" stroke-width="0.3" >300</text>
<text x="791.7" y="82.0" font-size="10" fill="#333" text-anchor="start" font-family='"Liberation Sans", sans-serif' font-weight="normal" stroke="#333" stroke-width="0.3" >nm</text>
<text x="790.3" y="142.7" font-size="10" fill="#333" text-anchor="start" font-family='"Liberation Sans", sans-serif' font-weight="normal" stroke="#333" stroke-width="0.3" >-300</text>
<rect x="4" y="322.8" width="190" height="140.3" fill="#fca602"/>
<polygon points="61.2,322.8 65.0,330.5 70.0,340.5 77.4,353.0 83.7,363.0 88.7,368.0 96.2,380.4 104.9,393.0 112.4,405.4 119.9,415.4 129.9,425.3 138.6,435.3 144.8,442.8 152.3,455.3 157.3,463.1 194,463.1 194,322.8" fill="#04f206"/>
<g clip-path="url(#fd)">
<polyline points="61.2,322.8 65.0,330.5 70.0,340.5 77.4,353.0 83.7,363.0 88.7,368.0 96.2,380.4 104.9,393.0 112.4,405.4 119.9,415.4 129.9,425.3 138.6,435.3 144.8,442.8 152.3,455.3 157.3,463.1" fill="none" stroke="#e8d820" stroke-width="1.2" opacity="0.7"/>
</g>
<g clip-path="url(#fd_l)"><g><rect x="4" y="322.8" width="190" height="140.3" fill="#fff" filter="url(#nz12)" opacity="1.0"/></g></g>
<g clip-path="url(#fd_l)"><g><rect x="4" y="322.8" width="190" height="140.3" fill="#fff" filter="url(#nz13)" opacity="0.6"/></g></g>
<g clip-path="url(#fd_r)"><g><rect x="4" y="322.8" width="190" height="140.3" fill="#fff" filter="url(#nz14)" opacity="0.7"/></g></g>
<g clip-path="url(#fd_l)" fill="#f8e040" opacity="0.9"><ellipse cx="98.6" cy="382.8" rx="1.8" ry="0.8" transform="rotate(143 98.6 382.8)"/><ellipse cx="154.8" cy="377.9" rx="1.9" ry="0.9" transform="rotate(34 154.8 377.9)"/><ellipse cx="154.3" cy="416.7" rx="1.3" ry="0.6" transform="rotate(170 154.3 416.7)"/><ellipse cx="132.4" cy="333.2" rx="1.8" ry="0.8" transform="rotate(122 132.4 333.2)"/><ellipse cx="104.1" cy="324.4" rx="1.7" ry="0.8" transform="rotate(175 104.1 324.4)"/><ellipse cx="34.0" cy="396.2" rx="1.3" ry="0.6" transform="rotate(94 34.0 396.2)"/><ellipse cx="35.4" cy="388.3" rx="1.4" ry="0.7" transform="rotate(48 35.4 388.3)"/><ellipse cx="154.1" cy="409.6" rx="1.8" ry="0.8" transform="rotate(45 154.1 409.6)"/><ellipse cx="55.7" cy="366.2" rx="1.5" ry="0.7" transform="rotate(93 55.7 366.2)"/><ellipse cx="177.5" cy="436.0" rx="1.4" ry="0.6" transform="rotate(67 177.5 436.0)"/><ellipse cx="137.4" cy="426.4" rx="1.1" ry="0.5" transform="rotate(76 137.4 426.4)"/><ellipse cx="5.5" cy="420.0" rx="2.0" ry="0.9" transform="rotate(32 5.5 420.0)"/><ellipse cx="113.0" cy="454.7" rx="1.4" ry="0.6" transform="rotate(9 113.0 454.7)"/><ellipse cx="114.7" cy="406.5" rx="1.7" ry="0.8" transform="rotate(157 114.7 406.5)"/><ellipse cx="76.4" cy="409.1" rx="1.9" ry="0.9" transform="rotate(33 76.4 409.1)"/><ellipse cx="14.7" cy="404.4" rx="1.2" ry="0.6" transform="rotate(147 14.7 404.4)"/><ellipse cx="172.5" cy="414.2" rx="1.7" ry="0.8" transform="rotate(122 172.5 414.2)"/><ellipse cx="5.3" cy="326.3" rx="1.2" ry="0.5" transform="rotate(128 5.3 326.3)"/><ellipse cx="8.0" cy="341.4" rx="1.2" ry="0.5" transform="rotate(175 8.0 341.4)"/><ellipse cx="192.5" cy="330.0" rx="1.8" ry="0.8" transform="rotate(178 192.5 330.0)"/><ellipse cx="38.7" cy="323.0" rx="1.2" ry="0.5" transform="rotate(8 38.7 323.0)"/><ellipse cx="186.1" cy="389.6" rx="1.8" ry="0.8" transform="rotate(60 186.1 389.6)"/><ellipse cx="111.1" cy="437.1" rx="1.3" ry="0.6" transform="rotate(174 111.1 437.1)"/><ellipse cx="4.4" cy="435.9" rx="1.2" ry="0.5" transform="rotate(105 4.4 435.9)"/><ellipse cx="57.4" cy="436.5" rx="1.3" ry="0.6" transform="rotate(69 57.4 436.5)"/><ellipse cx="140.5" cy="411.3" rx="1.4" ry="0.6" transform="rotate(34 140.5 411.3)"/><ellipse cx="171.9" cy="416.2" rx="1.1" ry="0.5" transform="rotate(61 171.9 416.2)"/><ellipse cx="68.0" cy="457.8" rx="1.2" ry="0.5" transform="rotate(144 68.0 457.8)"/><ellipse cx="49.9" cy="374.5" rx="1.3" ry="0.6" transform="rotate(163 49.9 374.5)"/><ellipse cx="180.3" cy="378.4" rx="1.3" ry="0.6" transform="rotate(78 180.3 378.4)"/></g>
<g clip-path="url(#fd_l)" fill="#e02020" opacity="1.0"><circle cx="160.2" cy="336.5" r="0.8"/><circle cx="81.1" cy="399.9" r="0.7"/><circle cx="135.3" cy="390.9" r="0.8"/><circle cx="150.9" cy="389.8" r="0.6"/><circle cx="59.6" cy="359.9" r="0.7"/><circle cx="178.2" cy="339.3" r="0.8"/></g>
<g clip-path="url(#fd_l)" fill="#20a040" opacity="1.0"><circle cx="51.4" cy="370.8" r="0.8"/><circle cx="174.6" cy="461.8" r="0.8"/><circle cx="94.7" cy="461.5" r="0.9"/><circle cx="164.2" cy="427.2" r="0.9"/><circle cx="128.1" cy="446.3" r="0.9"/></g>
<g clip-path="url(#fd_r)" fill="#2080a0" opacity="0.8"><circle cx="20.6" cy="379.7" r="0.5"/><circle cx="21.8" cy="406.5" r="0.6"/><circle cx="79.2" cy="336.8" r="0.8"/><circle cx="130.9" cy="390.1" r="0.7"/><circle cx="38.0" cy="405.0" r="0.7"/><circle cx="38.9" cy="342.6" r="0.7"/><circle cx="29.2" cy="380.1" r="0.6"/><circle cx="12.7" cy="370.5" r="0.7"/><circle cx="107.7" cy="352.0" r="0.5"/><circle cx="21.9" cy="461.7" r="0.7"/></g>
<rect x="4" y="322.8" width="190" height="140.3" fill="none" stroke="#0c0c18" stroke-width="1.5"/>
<g clip-path="url(#fd)">
<line x1="107.5" y1="322.4" x2="107.5" y2="463.3" stroke="#8a8aa2" stroke-width="1.15"/>
<polygon points="101.5,329.3 113.5,329.3 107.5,322.4" fill="none" stroke="#8a8aa2" stroke-width="1.2" stroke-linejoin="round"/>
<polygon points="101.5,454.4 113.5,454.4 107.5,463.3" fill="none" stroke="#8a8aa2" stroke-width="1.2" stroke-linejoin="round"/>
</g>
<text x="117.9" y="365.8" font-size="12.4" fill="#101010" text-anchor="start" font-family='"Liberation Sans", sans-serif' font-weight="normal" textLength="71.4" lengthAdjust="spacingAndGlyphs" stroke="#101010" stroke-width="0.3" >Oxidized area</text>
<text x="16" y="433.7" font-size="12.4" fill="#101010" text-anchor="start" font-family='"Liberation Sans", sans-serif' font-weight="normal" textLength="95.6" lengthAdjust="spacingAndGlyphs" stroke="#101010" stroke-width="0.3" >Non-oxidized area</text>
<rect x="153.6" y="452.3" width="31.700000000000017" height="4.0" fill="#0a0a14"/>
<text x="153.6" y="450.2" font-size="11.5" fill="#101028" text-anchor="start" font-family='"Liberation Sans", sans-serif' font-weight="normal" textLength="31.200000000000017" lengthAdjust="spacingAndGlyphs" stroke="#101028" stroke-width="0.3" >0.2mm</text>
<rect x="201" y="328" width="6.5" height="127" fill="url(#cbd)" stroke="#9a9aa8" stroke-width="0.5"/>
<text x="208.8" y="339.7" font-size="10.5" fill="#333" text-anchor="start" font-family='"Liberation Sans", sans-serif' font-weight="normal" textLength="16" lengthAdjust="spacingAndGlyphs" stroke="#333" stroke-width="0.3" >300</text>
<text x="211.2" y="395.5" font-size="10" fill="#333" text-anchor="start" font-family='"Liberation Sans", sans-serif' font-weight="normal" stroke="#333" stroke-width="0.3" >nm</text>
<text x="209.8" y="451.7" font-size="10" fill="#333" text-anchor="start" font-family='"Liberation Sans", sans-serif' font-weight="normal" stroke="#333" stroke-width="0.3" >-600</text>
<rect x="268.7" y="322.4" width="188.60000000000002" height="140.5" fill="#fca804"/>
<g clip-path="url(#fe)">
<polyline points="404.0,322.4 401.5,330.5 399.0,338.0 394.0,345.5 391.5,355.5 386.6,365.4 381.6,375.4 376.6,382.9 369.1,392.9 365.3,397.9 361.6,402.9 356.6,412.9 351.6,422.9 344.1,432.9 336.6,442.8 329.1,452.8 321.6,462.9" fill="none" stroke="#e8e414" stroke-width="3" filter="url(#bl0_7)"/>
<polyline points="402.0,322.4 399.5,330.5 397.0,338.0 392.0,345.5 389.5,355.5 384.6,365.4 379.6,375.4 374.6,382.9 367.1,392.9 363.3,397.9 359.6,402.9 354.6,412.9 349.6,422.9 342.1,432.9 334.6,442.8 327.1,452.8 319.6,462.9" fill="none" stroke="#3ae418" stroke-width="3.6" filter="url(#bl0_6)"/>
<polyline points="400.3,322.4 397.8,330.5 395.3,338.0 390.3,345.5 387.8,355.5 382.9,365.4 377.9,375.4 372.9,382.9 365.4,392.9 361.6,397.9 357.9,402.9 352.9,412.9 347.9,422.9 340.4,432.9 332.9,442.8 325.4,452.8 317.9,462.9" fill="none" stroke="#18c848" stroke-width="2" filter="url(#bl0_5)"/>
</g>
<polygon points="268.7,322.4 399.8,322.4 397.3,330.5 394.8,338.0 389.8,345.5 387.3,355.5 382.4,365.4 377.4,375.4 372.4,382.9 364.9,392.9 361.1,397.9 357.4,402.9 352.4,412.9 347.4,422.9 339.9,432.9 332.4,442.8 324.9,452.8 317.4,462.9 268.7,462.9" fill="#1460c0"/>
<g clip-path="url(#fe_l)"><g><rect x="268.7" y="322.4" width="188.60000000000002" height="140.5" fill="#fff" filter="url(#nz15)" opacity="1.0"/></g></g>
<g clip-path="url(#fe_l)"><g><rect x="268.7" y="322.4" width="188.60000000000002" height="140.5" fill="#fff" filter="url(#nz16)" opacity="1.0"/></g></g>
<g clip-path="url(#fe_r)"><g><rect x="268.7" y="322.4" width="188.60000000000002" height="140.5" fill="#fff" filter="url(#nz17)" opacity="0.5"/></g></g>
<g><circle cx="410.5" cy="367.5" r="1" fill="#30c040"/><circle cx="450" cy="375" r="0.9" fill="#30b050"/><circle cx="355" cy="447" r="0.9" fill="#e03020"/><circle cx="353" cy="448" r="0.8" fill="#c0e020"/><circle cx="354" cy="462" r="0.9" fill="#20a040"/></g>
<rect x="268.7" y="322.4" width="188.60000000000002" height="140.5" fill="none" stroke="#0c0c18" stroke-width="1.5"/>
<g clip-path="url(#fe)">
<line x1="361.6" y1="321.7" x2="361.6" y2="463.3" stroke="#8a8aa2" stroke-width="1.15"/>
<polygon points="355.6,327.8 367.6,327.8 361.6,321.7" fill="none" stroke="#8a8aa2" stroke-width="1.2" stroke-linejoin="round"/>
<polygon points="355.6,453.7 367.6,453.7 361.6,463.3" fill="none" stroke="#8a8aa2" stroke-width="1.2" stroke-linejoin="round"/>
</g>
<text x="283.7" y="384.2" font-size="12.4" fill="#101010" text-anchor="start" font-family='"Liberation Sans", sans-serif' font-weight="normal" textLength="71.2" lengthAdjust="spacingAndGlyphs" stroke="#101010" stroke-width="0.3" >Oxidized area</text>
<text x="352.9" y="436.6" font-size="12.4" fill="#101010" text-anchor="start" font-family='"Liberation Sans", sans-serif' font-weight="normal" textLength="95.6" lengthAdjust="spacingAndGlyphs" stroke="#101010" stroke-width="0.3" >Non-oxidized area</text>
<rect x="417.8" y="452.8" width="31.5" height="3.8000000000000114" fill="#0a0a14"/>
<text x="417.8" y="450.7" font-size="11.5" fill="#101028" text-anchor="start" font-family='"Liberation Sans", sans-serif' font-weight="normal" textLength="31.0" lengthAdjust="spacingAndGlyphs" stroke="#101028" stroke-width="0.3" >0.2mm</text>
<rect x="463" y="329" width="6" height="126" fill="url(#cbe)" stroke="#9a9aa8" stroke-width="0.5"/>
<text x="470.3" y="340.7" font-size="10.5" fill="#333" text-anchor="start" font-family='"Liberation Sans", sans-serif' font-weight="normal" textLength="16" lengthAdjust="spacingAndGlyphs" stroke="#333" stroke-width="0.3" >300</text>
<text x="472.7" y="396.0" font-size="10" fill="#333" text-anchor="start" font-family='"Liberation Sans", sans-serif' font-weight="normal" stroke="#333" stroke-width="0.3" >nm</text>
<text x="471.3" y="451.7" font-size="10" fill="#333" text-anchor="start" font-family='"Liberation Sans", sans-serif' font-weight="normal" stroke="#333" stroke-width="0.3" >-600</text>
<line x1="34.6" y1="163.5" x2="34.6" y2="246.6" stroke="#5a5a5a" stroke-width="1.1"/>
<line x1="30.1" y1="164.00" x2="34.6" y2="164.00" stroke="#5a5a5a" stroke-width="0.9"/>
<line x1="32.4" y1="170.84" x2="34.6" y2="170.84" stroke="#5a5a5a" stroke-width="0.9"/>
<line x1="32.4" y1="177.68" x2="34.6" y2="177.68" stroke="#5a5a5a" stroke-width="0.9"/>
<line x1="32.4" y1="184.53" x2="34.6" y2="184.53" stroke="#5a5a5a" stroke-width="0.9"/>
<line x1="32.4" y1="191.37" x2="34.6" y2="191.37" stroke="#5a5a5a" stroke-width="0.9"/>
<line x1="32.4" y1="198.21" x2="34.6" y2="198.21" stroke="#5a5a5a" stroke-width="0.9"/>
<line x1="30.1" y1="205.05" x2="34.6" y2="205.05" stroke="#5a5a5a" stroke-width="0.9"/>
<line x1="32.4" y1="211.89" x2="34.6" y2="211.89" stroke="#5a5a5a" stroke-width="0.9"/>
<line x1="32.4" y1="218.73" x2="34.6" y2="218.73" stroke="#5a5a5a" stroke-width="0.9"/>
<line x1="32.4" y1="225.57" x2="34.6" y2="225.57" stroke="#5a5a5a" stroke-width="0.9"/>
<line x1="32.4" y1="232.42" x2="34.6" y2="232.42" stroke="#5a5a5a" stroke-width="0.9"/>
<line x1="32.4" y1="239.26" x2="34.6" y2="239.26" stroke="#5a5a5a" stroke-width="0.9"/>
<line x1="30.1" y1="246.10" x2="34.6" y2="246.10" stroke="#5a5a5a" stroke-width="0.9"/>
<text x="29.6" y="167.71" font-size="10.3" fill="#2e2e2e" text-anchor="end" font-family='"Liberation Sans", sans-serif' font-weight="normal" stroke="#2e2e2e" stroke-width="0.35" >100</text>
<text x="29.6" y="208.76" font-size="10.3" fill="#2e2e2e" text-anchor="end" font-family='"Liberation Sans", sans-serif' font-weight="normal" stroke="#2e2e2e" stroke-width="0.35" >40</text>
<text x="29.6" y="249.81" font-size="10.3" fill="#2e2e2e" text-anchor="end" font-family='"Liberation Sans", sans-serif' font-weight="normal" stroke="#2e2e2e" stroke-width="0.35" >-20</text>
<text x="13.3" y="205.7" font-size="10.2" fill="#2e2e2e" stroke="#2e2e2e" stroke-width="0.35" text-anchor="middle" font-family='"Liberation Sans", sans-serif' transform="rotate(-90 13.3 205.7)" dy="3.67">Height (nm)</text>
<line x1="37.2" y1="250.9" x2="244" y2="250.9" stroke="#5a5a5a" stroke-width="1.1"/>
<line x1="37.70" y1="250.9" x2="37.70" y2="255.4" stroke="#5a5a5a" stroke-width="0.9"/>
<text x="37.7" y="264.9" font-size="10.3" fill="#2e2e2e" text-anchor="middle" font-family='"Liberation Sans", sans-serif' font-weight="normal" stroke="#2e2e2e" stroke-width="0.35" >0</text>
<line x1="48.93" y1="250.9" x2="48.93" y2="253.1" stroke="#5a5a5a" stroke-width="0.9"/>
<line x1="60.15" y1="250.9" x2="60.15" y2="253.1" stroke="#5a5a5a" stroke-width="0.9"/>
<line x1="71.38" y1="250.9" x2="71.38" y2="253.1" stroke="#5a5a5a" stroke-width="0.9"/>
<line x1="82.60" y1="250.9" x2="82.60" y2="255.4" stroke="#5a5a5a" stroke-width="0.9"/>
<text x="82.6" y="264.9" font-size="10.3" fill="#2e2e2e" text-anchor="middle" font-family='"Liberation Sans", sans-serif' font-weight="normal" stroke="#2e2e2e" stroke-width="0.35" >0.2</text>
<line x1="93.83" y1="250.9" x2="93.83" y2="253.1" stroke="#5a5a5a" stroke-width="0.9"/>
<line x1="105.05" y1="250.9" x2="105.05" y2="253.1" stroke="#5a5a5a" stroke-width="0.9"/>
<line x1="116.28" y1="250.9" x2="116.28" y2="253.1" stroke="#5a5a5a" stroke-width="0.9"/>
<line x1="127.50" y1="250.9" x2="127.50" y2="255.4" stroke="#5a5a5a" stroke-width="0.9"/>
<text x="127.5" y="264.9" font-size="10.3" fill="#2e2e2e" text-anchor="middle" font-family='"Liberation Sans", sans-serif' font-weight="normal" stroke="#2e2e2e" stroke-width="0.35" >0.4</text>
<line x1="138.73" y1="250.9" x2="138.73" y2="253.1" stroke="#5a5a5a" stroke-width="0.9"/>
<line x1="149.95" y1="250.9" x2="149.95" y2="253.1" stroke="#5a5a5a" stroke-width="0.9"/>
<line x1="161.18" y1="250.9" x2="161.18" y2="253.1" stroke="#5a5a5a" stroke-width="0.9"/>
<line x1="172.40" y1="250.9" x2="172.40" y2="255.4" stroke="#5a5a5a" stroke-width="0.9"/>
<text x="172.4" y="264.9" font-size="10.3" fill="#2e2e2e" text-anchor="middle" font-family='"Liberation Sans", sans-serif' font-weight="normal" stroke="#2e2e2e" stroke-width="0.35" >0.6</text>
<line x1="183.62" y1="250.9" x2="183.62" y2="253.1" stroke="#5a5a5a" stroke-width="0.9"/>
<line x1="194.85" y1="250.9" x2="194.85" y2="253.1" stroke="#5a5a5a" stroke-width="0.9"/>
<line x1="206.07" y1="250.9" x2="206.07" y2="253.1" stroke="#5a5a5a" stroke-width="0.9"/>
<line x1="217.30" y1="250.9" x2="217.30" y2="255.4" stroke="#5a5a5a" stroke-width="0.9"/>
<text x="217.3" y="264.9" font-size="10.3" fill="#2e2e2e" text-anchor="middle" font-family='"Liberation Sans", sans-serif' font-weight="normal" stroke="#2e2e2e" stroke-width="0.35" >0.8</text>
<line x1="228.53" y1="250.9" x2="228.53" y2="253.1" stroke="#5a5a5a" stroke-width="0.9"/>
<line x1="239.75" y1="250.9" x2="239.75" y2="253.1" stroke="#5a5a5a" stroke-width="0.9"/>
<text x="134" y="273.5" font-size="10.2" fill="#2e2e2e" text-anchor="middle" font-family='"Liberation Sans", sans-serif' font-weight="normal" textLength="66" lengthAdjust="spacingAndGlyphs" stroke="#2e2e2e" stroke-width="0.35" >Distance (mm)</text>
<rect x="37.6" y="164" width="206.4" height="92.89999999999998" fill="none" stroke="#e6ecdc" stroke-width="0.8" stroke-dasharray="1 1.5"/>
<line x1="37.7" y1="232.9" x2="243" y2="232.9" stroke="#8c8c8c" stroke-width="1.25" stroke-dasharray="5 3"/>
<line x1="43" y1="188.8" x2="243" y2="188.8" stroke="#7eecec" stroke-width="1.15" stroke-dasharray="7 9"/>
<line x1="61.1" y1="170.8" x2="61.1" y2="243.2" stroke="#7eecec" stroke-width="1.15" stroke-dasharray="8 6"/>
<polyline points="38.0,190.0 40.0,192.0 43.0,189.0 45.0,190.5 46.6,189.0 49.0,190.0 55.8,184.6 58.3,186.6 60.8,188.0 63.3,186.6 65.0,184.6 66.6,188.3 70.8,183.0 73.3,185.0 77.4,185.3 80.0,188.3 83.3,178.0 86.6,181.3 90.0,181.6 95.0,178.3 100.0,180.0 103.3,180.8 107.4,178.3 110.0,184.0 115.0,180.8 118.2,186.6 121.5,192.0 124.9,185.0 127.4,195.0 130.0,188.3 133.2,184.6 136.5,186.6 140.0,188.3 142.5,184.0 144.2,188.3 145.0,202.4 148.3,196.6 149.2,198.3 150.3,221.6 151.7,231.6 153.3,235.0 156.6,233.2 160.0,234.0 161.6,236.6 164.0,231.6 166.6,233.2 171.6,230.0 175.0,230.7 180.0,231.9 185.8,228.2 190.0,229.6 193.3,228.2 196.6,231.9 199.0,229.6 202.4,231.9 205.7,229.6 210.0,232.4 214.9,233.6 220.0,233.2 225.0,234.0 229.0,229.9 232.4,233.2 235.7,234.9 239.9,231.2 243.2,233.6" fill="none" stroke="#7ce262" stroke-width="1" stroke-linejoin="round"/>
<text x="138" y="298.6" font-size="19.5" fill="#000" text-anchor="middle" font-family='"Liberation Serif", serif' font-weight="bold" >(a)</text>
<line x1="321.2" y1="163.0" x2="321.2" y2="245.1" stroke="#5a5a5a" stroke-width="1.1"/>
<line x1="316.7" y1="163.50" x2="321.2" y2="163.50" stroke="#5a5a5a" stroke-width="0.9"/>
<line x1="319.0" y1="165.53" x2="321.2" y2="165.53" stroke="#5a5a5a" stroke-width="0.9"/>
<line x1="319.0" y1="167.56" x2="321.2" y2="167.56" stroke="#5a5a5a" stroke-width="0.9"/>
<line x1="319.0" y1="169.58" x2="321.2" y2="169.58" stroke="#5a5a5a" stroke-width="0.9"/>
<line x1="319.0" y1="171.61" x2="321.2" y2="171.61" stroke="#5a5a5a" stroke-width="0.9"/>
<line x1="319.0" y1="173.64" x2="321.2" y2="173.64" stroke="#5a5a5a" stroke-width="0.9"/>
<line x1="319.0" y1="175.66" x2="321.2" y2="175.66" stroke="#5a5a5a" stroke-width="0.9"/>
<line x1="319.0" y1="177.69" x2="321.2" y2="177.69" stroke="#5a5a5a" stroke-width="0.9"/>
<line x1="319.0" y1="179.72" x2="321.2" y2="179.72" stroke="#5a5a5a" stroke-width="0.9"/>
<line x1="319.0" y1="181.75" x2="321.2" y2="181.75" stroke="#5a5a5a" stroke-width="0.9"/>
<line x1="319.0" y1="183.78" x2="321.2" y2="183.78" stroke="#5a5a5a" stroke-width="0.9"/>
<line x1="319.0" y1="185.80" x2="321.2" y2="185.80" stroke="#5a5a5a" stroke-width="0.9"/>
<line x1="319.0" y1="187.83" x2="321.2" y2="187.83" stroke="#5a5a5a" stroke-width="0.9"/>
<line x1="319.0" y1="189.86" x2="321.2" y2="189.86" stroke="#5a5a5a" stroke-width="0.9"/>
<line x1="319.0" y1="191.88" x2="321.2" y2="191.88" stroke="#5a5a5a" stroke-width="0.9"/>
<line x1="319.0" y1="193.91" x2="321.2" y2="193.91" stroke="#5a5a5a" stroke-width="0.9"/>
<line x1="319.0" y1="195.94" x2="321.2" y2="195.94" stroke="#5a5a5a" stroke-width="0.9"/>
<line x1="319.0" y1="197.97" x2="321.2" y2="197.97" stroke="#5a5a5a" stroke-width="0.9"/>
<line x1="319.0" y1="200.00" x2="321.2" y2="200.00" stroke="#5a5a5a" stroke-width="0.9"/>
<line x1="319.0" y1="202.02" x2="321.2" y2="202.02" stroke="#5a5a5a" stroke-width="0.9"/>
<line x1="316.7" y1="204.05" x2="321.2" y2="204.05" stroke="#5a5a5a" stroke-width="0.9"/>
<line x1="319.0" y1="206.08" x2="321.2" y2="206.08" stroke="#5a5a5a" stroke-width="0.9"/>
<line x1="319.0" y1="208.10" x2="321.2" y2="208.10" stroke="#5a5a5a" stroke-width="0.9"/>
<line x1="319.0" y1="210.13" x2="321.2" y2="210.13" stroke="#5a5a5a" stroke-width="0.9"/>
<line x1="319.0" y1="212.16" x2="321.2" y2="212.16" stroke="#5a5a5a" stroke-width="0.9"/>
<line x1="319.0" y1="214.19" x2="321.2" y2="214.19" stroke="#5a5a5a" stroke-width="0.9"/>
<line x1="319.0" y1="216.22" x2="321.2" y2="216.22" stroke="#5a5a5a" stroke-width="0.9"/>
<line x1="319.0" y1="218.24" x2="321.2" y2="218.24" stroke="#5a5a5a" stroke-width="0.9"/>
<line x1="319.0" y1="220.27" x2="321.2" y2="220.27" stroke="#5a5a5a" stroke-width="0.9"/>
<line x1="319.0" y1="222.30" x2="321.2" y2="222.30" stroke="#5a5a5a" stroke-width="0.9"/>
<line x1="319.0" y1="224.32" x2="321.2" y2="224.32" stroke="#5a5a5a" stroke-width="0.9"/>
<line x1="319.0" y1="226.35" x2="321.2" y2="226.35" stroke="#5a5a5a" stroke-width="0.9"/>
<line x1="319.0" y1="228.38" x2="321.2" y2="228.38" stroke="#5a5a5a" stroke-width="0.9"/>
<line x1="319.0" y1="230.41" x2="321.2" y2="230.41" stroke="#5a5a5a" stroke-width="0.9"/>
<line x1="319.0" y1="232.44" x2="321.2" y2="232.44" stroke="#5a5a5a" stroke-width="0.9"/>
<line x1="319.0" y1="234.46" x2="321.2" y2="234.46" stroke="#5a5a5a" stroke-width="0.9"/>
<line x1="319.0" y1="236.49" x2="321.2" y2="236.49" stroke="#5a5a5a" stroke-width="0.9"/>
<line x1="319.0" y1="238.52" x2="321.2" y2="238.52" stroke="#5a5a5a" stroke-width="0.9"/>
<line x1="319.0" y1="240.54" x2="321.2" y2="240.54" stroke="#5a5a5a" stroke-width="0.9"/>
<line x1="319.0" y1="242.57" x2="321.2" y2="242.57" stroke="#5a5a5a" stroke-width="0.9"/>
<line x1="316.7" y1="244.60" x2="321.2" y2="244.60" stroke="#5a5a5a" stroke-width="0.9"/>
<text x="314.2" y="167.21" font-size="10.3" fill="#2e2e2e" text-anchor="end" font-family='"Liberation Sans", sans-serif' font-weight="normal" stroke="#2e2e2e" stroke-width="0.35" >150</text>
<text x="314.2" y="207.76" font-size="10.3" fill="#2e2e2e" text-anchor="end" font-family='"Liberation Sans", sans-serif' font-weight="normal" stroke="#2e2e2e" stroke-width="0.35" >50</text>
<text x="314.2" y="248.31" font-size="10.3" fill="#2e2e2e" text-anchor="end" font-family='"Liberation Sans", sans-serif' font-weight="normal" stroke="#2e2e2e" stroke-width="0.35" >-50</text>
<text x="297.8" y="206" font-size="10.2" fill="#2e2e2e" stroke="#2e2e2e" stroke-width="0.35" text-anchor="middle" font-family='"Liberation Sans", sans-serif' transform="rotate(-90 297.8 206)" dy="3.67">Height (nm)</text>
<line x1="324.0" y1="250.4" x2="527" y2="250.4" stroke="#5a5a5a" stroke-width="1.1"/>
<line x1="324.50" y1="250.4" x2="324.50" y2="254.9" stroke="#5a5a5a" stroke-width="0.9"/>
<text x="324.5" y="264.4" font-size="10.3" fill="#2e2e2e" text-anchor="middle" font-family='"Liberation Sans", sans-serif' font-weight="normal" stroke="#2e2e2e" stroke-width="0.35" >0</text>
<line x1="335.52" y1="250.4" x2="335.52" y2="252.6" stroke="#5a5a5a" stroke-width="0.9"/>
<line x1="346.55" y1="250.4" x2="346.55" y2="252.6" stroke="#5a5a5a" stroke-width="0.9"/>
<line x1="357.57" y1="250.4" x2="357.57" y2="252.6" stroke="#5a5a5a" stroke-width="0.9"/>
<line x1="368.60" y1="250.4" x2="368.60" y2="254.9" stroke="#5a5a5a" stroke-width="0.9"/>
<text x="368.6" y="264.4" font-size="10.3" fill="#2e2e2e" text-anchor="middle" font-family='"Liberation Sans", sans-serif' font-weight="normal" stroke="#2e2e2e" stroke-width="0.35" >0.2</text>
<line x1="379.62" y1="250.4" x2="379.62" y2="252.6" stroke="#5a5a5a" stroke-width="0.9"/>
<line x1="390.65" y1="250.4" x2="390.65" y2="252.6" stroke="#5a5a5a" stroke-width="0.9"/>
<line x1="401.68" y1="250.4" x2="401.68" y2="252.6" stroke="#5a5a5a" stroke-width="0.9"/>
<line x1="412.70" y1="250.4" x2="412.70" y2="254.9" stroke="#5a5a5a" stroke-width="0.9"/>
<text x="412.7" y="264.4" font-size="10.3" fill="#2e2e2e" text-anchor="middle" font-family='"Liberation Sans", sans-serif' font-weight="normal" stroke="#2e2e2e" stroke-width="0.35" >0.4</text>
<line x1="423.73" y1="250.4" x2="423.73" y2="252.6" stroke="#5a5a5a" stroke-width="0.9"/>
<line x1="434.75" y1="250.4" x2="434.75" y2="252.6" stroke="#5a5a5a" stroke-width="0.9"/>
<line x1="445.77" y1="250.4" x2="445.77" y2="252.6" stroke="#5a5a5a" stroke-width="0.9"/>
<line x1="456.80" y1="250.4" x2="456.80" y2="254.9" stroke="#5a5a5a" stroke-width="0.9"/>
<text x="456.8" y="264.4" font-size="10.3" fill="#2e2e2e" text-anchor="middle" font-family='"Liberation Sans", sans-serif' font-weight="normal" stroke="#2e2e2e" stroke-width="0.35" >0.6</text>
<line x1="467.83" y1="250.4" x2="467.83" y2="252.6" stroke="#5a5a5a" stroke-width="0.9"/>
<line x1="478.85" y1="250.4" x2="478.85" y2="252.6" stroke="#5a5a5a" stroke-width="0.9"/>
<line x1="489.88" y1="250.4" x2="489.88" y2="252.6" stroke="#5a5a5a" stroke-width="0.9"/>
<line x1="500.90" y1="250.4" x2="500.90" y2="254.9" stroke="#5a5a5a" stroke-width="0.9"/>
<text x="500.9" y="264.4" font-size="10.3" fill="#2e2e2e" text-anchor="middle" font-family='"Liberation Sans", sans-serif' font-weight="normal" stroke="#2e2e2e" stroke-width="0.35" >0.8</text>
<line x1="511.93" y1="250.4" x2="511.93" y2="252.6" stroke="#5a5a5a" stroke-width="0.9"/>
<line x1="522.95" y1="250.4" x2="522.95" y2="252.6" stroke="#5a5a5a" stroke-width="0.9"/>
<text x="418" y="273.0" font-size="10.2" fill="#2e2e2e" text-anchor="middle" font-family='"Liberation Sans", sans-serif' font-weight="normal" textLength="64" lengthAdjust="spacingAndGlyphs" stroke="#2e2e2e" stroke-width="0.35" >Distance (mm)</text>
<rect x="324.2" y="163.5" width="202.8" height="92.89999999999998" fill="none" stroke="#e6ecdc" stroke-width="0.8" stroke-dasharray="1 1.5"/>
<line x1="325" y1="224.4" x2="527" y2="224.4" stroke="#8c8c8c" stroke-width="1.25" stroke-dasharray="5 2.5"/>
<line x1="328.2" y1="184" x2="527" y2="184" stroke="#7eecec" stroke-width="1.15" stroke-dasharray="8 7.7"/>
<line x1="465.7" y1="170.5" x2="465.7" y2="240.8" stroke="#7eecec" stroke-width="1.15" stroke-dasharray="8 7"/>
<polyline points="324.5,220.6 326.7,221.4 329.0,225.0 333.5,224.4 338.7,222.0 341.0,224.7 345.4,227.4 350.0,226.0 356.0,224.4 359.7,227.7 363.4,224.7 368.0,225.0 373.0,223.0 379.0,227.7 382.9,225.0 388.9,224.0 393.4,222.0 399.3,225.9 403.8,222.6 409.8,224.4 414.3,222.9 418.0,228.9 421.8,222.9 423.7,215.4 426.7,198.9 429.0,191.4 431.2,181.7 433.5,182.5 437.2,184.7 439.5,183.2 445.4,183.2 447.7,185.4 450.0,194.1 452.2,188.4 455.2,182.5 458.9,183.7 460.4,182.5 464.9,184.3 469.4,183.2 472.4,185.1 475.4,184.3 482.9,183.7 487.4,187.0 494.9,187.0 497.8,189.6 501.6,187.7 506.8,186.6 511.3,189.2 517.3,188.7 520.3,191.4 523.3,189.2 527.0,189.2" fill="none" stroke="#7ce262" stroke-width="1" stroke-linejoin="round"/>
<text x="422" y="298.6" font-size="19.5" fill="#000" text-anchor="middle" font-family='"Liberation Serif", serif' font-weight="bold" >(b)</text>
<line x1="599.3" y1="163.0" x2="599.3" y2="245.5" stroke="#5a5a5a" stroke-width="1.1"/>
<line x1="594.8" y1="163.50" x2="599.3" y2="163.50" stroke="#5a5a5a" stroke-width="0.9"/>
<line x1="597.0999999999999" y1="167.57" x2="599.3" y2="167.57" stroke="#5a5a5a" stroke-width="0.9"/>
<line x1="597.0999999999999" y1="171.65" x2="599.3" y2="171.65" stroke="#5a5a5a" stroke-width="0.9"/>
<line x1="597.0999999999999" y1="175.72" x2="599.3" y2="175.72" stroke="#5a5a5a" stroke-width="0.9"/>
<line x1="597.0999999999999" y1="179.80" x2="599.3" y2="179.80" stroke="#5a5a5a" stroke-width="0.9"/>
<line x1="597.0999999999999" y1="183.88" x2="599.3" y2="183.88" stroke="#5a5a5a" stroke-width="0.9"/>
<line x1="597.0999999999999" y1="187.95" x2="599.3" y2="187.95" stroke="#5a5a5a" stroke-width="0.9"/>
<line x1="597.0999999999999" y1="192.03" x2="599.3" y2="192.03" stroke="#5a5a5a" stroke-width="0.9"/>
<line x1="597.0999999999999" y1="196.10" x2="599.3" y2="196.10" stroke="#5a5a5a" stroke-width="0.9"/>
<line x1="597.0999999999999" y1="200.18" x2="599.3" y2="200.18" stroke="#5a5a5a" stroke-width="0.9"/>
<line x1="594.8" y1="204.25" x2="599.3" y2="204.25" stroke="#5a5a5a" stroke-width="0.9"/>
<line x1="597.0999999999999" y1="208.32" x2="599.3" y2="208.32" stroke="#5a5a5a" stroke-width="0.9"/>
<line x1="597.0999999999999" y1="212.40" x2="599.3" y2="212.40" stroke="#5a5a5a" stroke-width="0.9"/>
<line x1="597.0999999999999" y1="216.47" x2="599.3" y2="216.47" stroke="#5a5a5a" stroke-width="0.9"/>
<line x1="597.0999999999999" y1="220.55" x2="599.3" y2="220.55" stroke="#5a5a5a" stroke-width="0.9"/>
<line x1="597.0999999999999" y1="224.62" x2="599.3" y2="224.62" stroke="#5a5a5a" stroke-width="0.9"/>
<line x1="597.0999999999999" y1="228.70" x2="599.3" y2="228.70" stroke="#5a5a5a" stroke-width="0.9"/>
<line x1="597.0999999999999" y1="232.78" x2="599.3" y2="232.78" stroke="#5a5a5a" stroke-width="0.9"/>
<line x1="597.0999999999999" y1="236.85" x2="599.3" y2="236.85" stroke="#5a5a5a" stroke-width="0.9"/>
<line x1="597.0999999999999" y1="240.93" x2="599.3" y2="240.93" stroke="#5a5a5a" stroke-width="0.9"/>
<line x1="594.8" y1="245.00" x2="599.3" y2="245.00" stroke="#5a5a5a" stroke-width="0.9"/>
<text x="594.0" y="167.21" font-size="10.3" fill="#2e2e2e" text-anchor="end" font-family='"Liberation Sans", sans-serif' font-weight="normal" stroke="#2e2e2e" stroke-width="0.35" >50</text>
<text x="594.0" y="207.96" font-size="10.3" fill="#2e2e2e" text-anchor="end" font-family='"Liberation Sans", sans-serif' font-weight="normal" stroke="#2e2e2e" stroke-width="0.35" >-75</text>
<text x="594.0" y="248.71" font-size="10.3" fill="#2e2e2e" text-anchor="end" font-family='"Liberation Sans", sans-serif' font-weight="normal" stroke="#2e2e2e" stroke-width="0.35" >-200</text>
<text x="578" y="206.2" font-size="10.2" fill="#2e2e2e" stroke="#2e2e2e" stroke-width="0.35" text-anchor="middle" font-family='"Liberation Sans", sans-serif' transform="rotate(-90 578 206.2)" dy="3.67">Height (nm)</text>
<line x1="602.5" y1="250.8" x2="809.5" y2="250.8" stroke="#5a5a5a" stroke-width="1.1"/>
<line x1="603.00" y1="250.8" x2="603.00" y2="255.3" stroke="#5a5a5a" stroke-width="0.9"/>
<text x="603.0" y="264.8" font-size="10.3" fill="#2e2e2e" text-anchor="middle" font-family='"Liberation Sans", sans-serif' font-weight="normal" stroke="#2e2e2e" stroke-width="0.35" >0</text>
<line x1="614.25" y1="250.8" x2="614.25" y2="253.0" stroke="#5a5a5a" stroke-width="0.9"/>
<line x1="625.50" y1="250.8" x2="625.50" y2="253.0" stroke="#5a5a5a" stroke-width="0.9"/>
<line x1="636.75" y1="250.8" x2="636.75" y2="253.0" stroke="#5a5a5a" stroke-width="0.9"/>
<line x1="648.00" y1="250.8" x2="648.00" y2="255.3" stroke="#5a5a5a" stroke-width="0.9"/>
<text x="648.0" y="264.8" font-size="10.3" fill="#2e2e2e" text-anchor="middle" font-family='"Liberation Sans", sans-serif' font-weight="normal" stroke="#2e2e2e" stroke-width="0.35" >0.2</text>
<line x1="659.25" y1="250.8" x2="659.25" y2="253.0" stroke="#5a5a5a" stroke-width="0.9"/>
<line x1="670.50" y1="250.8" x2="670.50" y2="253.0" stroke="#5a5a5a" stroke-width="0.9"/>
<line x1="681.75" y1="250.8" x2="681.75" y2="253.0" stroke="#5a5a5a" stroke-width="0.9"/>
<line x1="693.00" y1="250.8" x2="693.00" y2="255.3" stroke="#5a5a5a" stroke-width="0.9"/>
<text x="693.0" y="264.8" font-size="10.3" fill="#2e2e2e" text-anchor="middle" font-family='"Liberation Sans", sans-serif' font-weight="normal" stroke="#2e2e2e" stroke-width="0.35" >0.4</text>
<line x1="704.25" y1="250.8" x2="704.25" y2="253.0" stroke="#5a5a5a" stroke-width="0.9"/>
<line x1="715.50" y1="250.8" x2="715.50" y2="253.0" stroke="#5a5a5a" stroke-width="0.9"/>
<line x1="726.75" y1="250.8" x2="726.75" y2="253.0" stroke="#5a5a5a" stroke-width="0.9"/>
<line x1="738.00" y1="250.8" x2="738.00" y2="255.3" stroke="#5a5a5a" stroke-width="0.9"/>
<text x="738.0" y="264.8" font-size="10.3" fill="#2e2e2e" text-anchor="middle" font-family='"Liberation Sans", sans-serif' font-weight="normal" stroke="#2e2e2e" stroke-width="0.35" >0.6</text>
<line x1="749.25" y1="250.8" x2="749.25" y2="253.0" stroke="#5a5a5a" stroke-width="0.9"/>
<line x1="760.50" y1="250.8" x2="760.50" y2="253.0" stroke="#5a5a5a" stroke-width="0.9"/>
<line x1="771.75" y1="250.8" x2="771.75" y2="253.0" stroke="#5a5a5a" stroke-width="0.9"/>
<line x1="783.00" y1="250.8" x2="783.00" y2="255.3" stroke="#5a5a5a" stroke-width="0.9"/>
<text x="783.0" y="264.8" font-size="10.3" fill="#2e2e2e" text-anchor="middle" font-family='"Liberation Sans", sans-serif' font-weight="normal" stroke="#2e2e2e" stroke-width="0.35" >0.8</text>
<line x1="794.25" y1="250.8" x2="794.25" y2="253.0" stroke="#5a5a5a" stroke-width="0.9"/>
<line x1="805.50" y1="250.8" x2="805.50" y2="253.0" stroke="#5a5a5a" stroke-width="0.9"/>
<text x="698" y="273.4" font-size="10.2" fill="#2e2e2e" text-anchor="middle" font-family='"Liberation Sans", sans-serif' font-weight="normal" textLength="64" lengthAdjust="spacingAndGlyphs" stroke="#2e2e2e" stroke-width="0.35" >Distance (mm)</text>
<rect x="602.3" y="163.5" width="207.20000000000005" height="93.30000000000001" fill="none" stroke="#e6ecdc" stroke-width="0.8" stroke-dasharray="1 1.5"/>
<line x1="603" y1="179.2" x2="809" y2="179.2" stroke="#8c8c8c" stroke-width="1.25" stroke-dasharray="5 3"/>
<line x1="606" y1="231.6" x2="809" y2="231.6" stroke="#7eecec" stroke-width="1.15" stroke-dasharray="9 7.5"/>
<line x1="706" y1="169.7" x2="706" y2="240.8" stroke="#7eecec" stroke-width="1.15" stroke-dasharray="8 8"/>
<polyline points="603.2,181.7 605.5,183.2 610.0,181.7 614.5,182.5 619.0,181.0 623.4,179.8 628.0,179.8 634.0,179.2 643.0,178.0 647.4,179.2 654.9,181.0 660.9,181.0 665.4,179.2 667.6,181.0 672.9,176.8 678.8,176.8 681.8,178.0 684.8,181.0 687.8,191.4 691.6,204.9 695.3,216.9 697.6,224.4 701.3,230.4 705.8,230.7 708.0,232.0 712.0,232.6 716.5,231.1 722.5,232.6 729.2,235.6 735.9,231.9 740.4,231.1 744.9,233.0 752.4,232.2 759.9,234.6 765.9,232.2 773.4,230.0 780.8,231.9 788.3,230.7 794.3,232.2 800.3,230.7 805.5,236.6 809.3,231.9" fill="none" stroke="#7ce262" stroke-width="1" stroke-linejoin="round"/>
<text x="697" y="298.6" font-size="19.5" fill="#000" text-anchor="middle" font-family='"Liberation Serif", serif' font-weight="bold" >(c)</text>
<line x1="33.8" y1="469.0" x2="33.8" y2="545.8" stroke="#5a5a5a" stroke-width="1.1"/>
<line x1="29.299999999999997" y1="469.50" x2="33.8" y2="469.50" stroke="#5a5a5a" stroke-width="0.9"/>
<line x1="31.599999999999998" y1="473.29" x2="33.8" y2="473.29" stroke="#5a5a5a" stroke-width="0.9"/>
<line x1="31.599999999999998" y1="477.08" x2="33.8" y2="477.08" stroke="#5a5a5a" stroke-width="0.9"/>
<line x1="31.599999999999998" y1="480.87" x2="33.8" y2="480.87" stroke="#5a5a5a" stroke-width="0.9"/>
<line x1="31.599999999999998" y1="484.66" x2="33.8" y2="484.66" stroke="#5a5a5a" stroke-width="0.9"/>
<line x1="31.599999999999998" y1="488.45" x2="33.8" y2="488.45" stroke="#5a5a5a" stroke-width="0.9"/>
<line x1="31.599999999999998" y1="492.24" x2="33.8" y2="492.24" stroke="#5a5a5a" stroke-width="0.9"/>
<line x1="31.599999999999998" y1="496.03" x2="33.8" y2="496.03" stroke="#5a5a5a" stroke-width="0.9"/>
<line x1="31.599999999999998" y1="499.82" x2="33.8" y2="499.82" stroke="#5a5a5a" stroke-width="0.9"/>
<line x1="31.599999999999998" y1="503.61" x2="33.8" y2="503.61" stroke="#5a5a5a" stroke-width="0.9"/>
<line x1="29.299999999999997" y1="507.40" x2="33.8" y2="507.40" stroke="#5a5a5a" stroke-width="0.9"/>
<line x1="31.599999999999998" y1="511.19" x2="33.8" y2="511.19" stroke="#5a5a5a" stroke-width="0.9"/>
<line x1="31.599999999999998" y1="514.98" x2="33.8" y2="514.98" stroke="#5a5a5a" stroke-width="0.9"/>
<line x1="31.599999999999998" y1="518.77" x2="33.8" y2="518.77" stroke="#5a5a5a" stroke-width="0.9"/>
<line x1="31.599999999999998" y1="522.56" x2="33.8" y2="522.56" stroke="#5a5a5a" stroke-width="0.9"/>
<line x1="31.599999999999998" y1="526.35" x2="33.8" y2="526.35" stroke="#5a5a5a" stroke-width="0.9"/>
<line x1="31.599999999999998" y1="530.14" x2="33.8" y2="530.14" stroke="#5a5a5a" stroke-width="0.9"/>
<line x1="31.599999999999998" y1="533.93" x2="33.8" y2="533.93" stroke="#5a5a5a" stroke-width="0.9"/>
<line x1="31.599999999999998" y1="537.72" x2="33.8" y2="537.72" stroke="#5a5a5a" stroke-width="0.9"/>
<line x1="31.599999999999998" y1="541.51" x2="33.8" y2="541.51" stroke="#5a5a5a" stroke-width="0.9"/>
<line x1="29.299999999999997" y1="545.30" x2="33.8" y2="545.30" stroke="#5a5a5a" stroke-width="0.9"/>
<text x="27.899999999999995" y="473.03" font-size="9.8" fill="#2e2e2e" text-anchor="end" font-family='"Liberation Sans", sans-serif' font-weight="normal" stroke="#2e2e2e" stroke-width="0.35" >50</text>
<text x="27.899999999999995" y="510.93" font-size="9.8" fill="#2e2e2e" text-anchor="end" font-family='"Liberation Sans", sans-serif' font-weight="normal" stroke="#2e2e2e" stroke-width="0.35" >-75</text>
<text x="27.899999999999995" y="548.83" font-size="9.8" fill="#2e2e2e" text-anchor="end" font-family='"Liberation Sans", sans-serif' font-weight="normal" stroke="#2e2e2e" stroke-width="0.35" >-200</text>
<text x="12.7" y="510" font-size="9.6" fill="#2e2e2e" stroke="#2e2e2e" stroke-width="0.35" text-anchor="middle" font-family='"Liberation Sans", sans-serif' transform="rotate(-90 12.7 510)" dy="3.46">Height (nm)</text>
<line x1="36.5" y1="549.6" x2="230.5" y2="549.6" stroke="#5a5a5a" stroke-width="1.1"/>
<line x1="37.00" y1="549.6" x2="37.00" y2="554.1" stroke="#5a5a5a" stroke-width="0.9"/>
<text x="37.0" y="563.6" font-size="9.8" fill="#2e2e2e" text-anchor="middle" font-family='"Liberation Sans", sans-serif' font-weight="normal" stroke="#2e2e2e" stroke-width="0.35" >0</text>
<line x1="47.38" y1="549.6" x2="47.38" y2="551.8000000000001" stroke="#5a5a5a" stroke-width="0.9"/>
<line x1="57.75" y1="549.6" x2="57.75" y2="551.8000000000001" stroke="#5a5a5a" stroke-width="0.9"/>
<line x1="68.12" y1="549.6" x2="68.12" y2="551.8000000000001" stroke="#5a5a5a" stroke-width="0.9"/>
<line x1="78.50" y1="549.6" x2="78.50" y2="554.1" stroke="#5a5a5a" stroke-width="0.9"/>
<text x="78.5" y="563.6" font-size="9.8" fill="#2e2e2e" text-anchor="middle" font-family='"Liberation Sans", sans-serif' font-weight="normal" stroke="#2e2e2e" stroke-width="0.35" >0.2</text>
<line x1="88.88" y1="549.6" x2="88.88" y2="551.8000000000001" stroke="#5a5a5a" stroke-width="0.9"/>
<line x1="99.25" y1="549.6" x2="99.25" y2="551.8000000000001" stroke="#5a5a5a" stroke-width="0.9"/>
<line x1="109.62" y1="549.6" x2="109.62" y2="551.8000000000001" stroke="#5a5a5a" stroke-width="0.9"/>
<line x1="120.00" y1="549.6" x2="120.00" y2="554.1" stroke="#5a5a5a" stroke-width="0.9"/>
<text x="120.0" y="563.6" font-size="9.8" fill="#2e2e2e" text-anchor="middle" font-family='"Liberation Sans", sans-serif' font-weight="normal" stroke="#2e2e2e" stroke-width="0.35" >0.4</text>
<line x1="130.38" y1="549.6" x2="130.38" y2="551.8000000000001" stroke="#5a5a5a" stroke-width="0.9"/>
<line x1="140.75" y1="549.6" x2="140.75" y2="551.8000000000001" stroke="#5a5a5a" stroke-width="0.9"/>
<line x1="151.12" y1="549.6" x2="151.12" y2="551.8000000000001" stroke="#5a5a5a" stroke-width="0.9"/>
<line x1="161.50" y1="549.6" x2="161.50" y2="554.1" stroke="#5a5a5a" stroke-width="0.9"/>
<text x="161.5" y="563.6" font-size="9.8" fill="#2e2e2e" text-anchor="middle" font-family='"Liberation Sans", sans-serif' font-weight="normal" stroke="#2e2e2e" stroke-width="0.35" >0.6</text>
<line x1="171.88" y1="549.6" x2="171.88" y2="551.8000000000001" stroke="#5a5a5a" stroke-width="0.9"/>
<line x1="182.25" y1="549.6" x2="182.25" y2="551.8000000000001" stroke="#5a5a5a" stroke-width="0.9"/>
<line x1="192.62" y1="549.6" x2="192.62" y2="551.8000000000001" stroke="#5a5a5a" stroke-width="0.9"/>
<line x1="203.00" y1="549.6" x2="203.00" y2="554.1" stroke="#5a5a5a" stroke-width="0.9"/>
<text x="203.0" y="563.6" font-size="9.8" fill="#2e2e2e" text-anchor="middle" font-family='"Liberation Sans", sans-serif' font-weight="normal" stroke="#2e2e2e" stroke-width="0.35" >0.8</text>
<line x1="213.38" y1="549.6" x2="213.38" y2="551.8000000000001" stroke="#5a5a5a" stroke-width="0.9"/>
<line x1="223.75" y1="549.6" x2="223.75" y2="551.8000000000001" stroke="#5a5a5a" stroke-width="0.9"/>
<text x="124.5" y="572.2" font-size="9.6" fill="#2e2e2e" text-anchor="middle" font-family='"Liberation Sans", sans-serif' font-weight="normal" textLength="62" lengthAdjust="spacingAndGlyphs" stroke="#2e2e2e" stroke-width="0.35" >Distance (mm)</text>
<rect x="36.8" y="469.5" width="193.7" height="86.10000000000002" fill="none" stroke="#e6ecdc" stroke-width="0.8" stroke-dasharray="1 1.5"/>
<line x1="37.5" y1="487.9" x2="230" y2="487.9" stroke="#8c8c8c" stroke-width="1.25" stroke-dasharray="5 3"/>
<line x1="40" y1="536.4" x2="230" y2="536.4" stroke="#7eecec" stroke-width="1.15" stroke-dasharray="8 8"/>
<line x1="87.3" y1="474.7" x2="87.3" y2="541.3" stroke="#7eecec" stroke-width="1.15" stroke-dasharray="8 7"/>
<polyline points="37.5,535.0 42.0,536.1 48.0,536.1 53.2,539.1 56.2,536.9 61.4,536.6 65.6,542.1 68.9,537.6 73.4,536.9 77.9,535.7 83.9,537.6 89.9,536.6 97.4,536.1 104.9,535.4 112.3,535.7 118.3,535.4 120.6,532.4 123.6,524.9 126.6,511.4 129.6,496.4 132.5,488.6 140.0,488.2 152.5,489.7 173.4,489.7 201.8,487.4 229.6,487.7" fill="none" stroke="#7ce262" stroke-width="1" stroke-linejoin="round"/>
<text x="130" y="597.5" font-size="19.5" fill="#000" text-anchor="middle" font-family='"Liberation Serif", serif' font-weight="bold" >(d)</text>
<line x1="295.5" y1="469.0" x2="295.5" y2="545.0" stroke="#5a5a5a" stroke-width="1.1"/>
<line x1="291.0" y1="469.50" x2="295.5" y2="469.50" stroke="#5a5a5a" stroke-width="0.9"/>
<line x1="293.3" y1="474.19" x2="295.5" y2="474.19" stroke="#5a5a5a" stroke-width="0.9"/>
<line x1="293.3" y1="478.88" x2="295.5" y2="478.88" stroke="#5a5a5a" stroke-width="0.9"/>
<line x1="293.3" y1="483.56" x2="295.5" y2="483.56" stroke="#5a5a5a" stroke-width="0.9"/>
<line x1="293.3" y1="488.25" x2="295.5" y2="488.25" stroke="#5a5a5a" stroke-width="0.9"/>
<line x1="293.3" y1="492.94" x2="295.5" y2="492.94" stroke="#5a5a5a" stroke-width="0.9"/>
<line x1="293.3" y1="497.62" x2="295.5" y2="497.62" stroke="#5a5a5a" stroke-width="0.9"/>
<line x1="293.3" y1="502.31" x2="295.5" y2="502.31" stroke="#5a5a5a" stroke-width="0.9"/>
<line x1="291.0" y1="507.00" x2="295.5" y2="507.00" stroke="#5a5a5a" stroke-width="0.9"/>
<line x1="293.3" y1="511.69" x2="295.5" y2="511.69" stroke="#5a5a5a" stroke-width="0.9"/>
<line x1="293.3" y1="516.38" x2="295.5" y2="516.38" stroke="#5a5a5a" stroke-width="0.9"/>
<line x1="293.3" y1="521.06" x2="295.5" y2="521.06" stroke="#5a5a5a" stroke-width="0.9"/>
<line x1="293.3" y1="525.75" x2="295.5" y2="525.75" stroke="#5a5a5a" stroke-width="0.9"/>
<line x1="293.3" y1="530.44" x2="295.5" y2="530.44" stroke="#5a5a5a" stroke-width="0.9"/>
<line x1="293.3" y1="535.12" x2="295.5" y2="535.12" stroke="#5a5a5a" stroke-width="0.9"/>
<line x1="293.3" y1="539.81" x2="295.5" y2="539.81" stroke="#5a5a5a" stroke-width="0.9"/>
<line x1="291.0" y1="544.50" x2="295.5" y2="544.50" stroke="#5a5a5a" stroke-width="0.9"/>
<text x="290.7" y="473.03" font-size="9.8" fill="#2e2e2e" text-anchor="end" font-family='"Liberation Sans", sans-serif' font-weight="normal" stroke="#2e2e2e" stroke-width="0.35" >400</text>
<text x="290.7" y="510.53" font-size="9.8" fill="#2e2e2e" text-anchor="end" font-family='"Liberation Sans", sans-serif' font-weight="normal" stroke="#2e2e2e" stroke-width="0.35" >0</text>
<text x="290.7" y="548.03" font-size="9.8" fill="#2e2e2e" text-anchor="end" font-family='"Liberation Sans", sans-serif' font-weight="normal" stroke="#2e2e2e" stroke-width="0.35" >-400</text>
<text x="275.2" y="510" font-size="9.6" fill="#2e2e2e" stroke="#2e2e2e" stroke-width="0.35" text-anchor="middle" font-family='"Liberation Sans", sans-serif' transform="rotate(-90 275.2 510)" dy="3.46">Height (nm)</text>
<line x1="298.5" y1="549.4" x2="489.6" y2="549.4" stroke="#5a5a5a" stroke-width="1.1"/>
<line x1="299.00" y1="549.4" x2="299.00" y2="553.9" stroke="#5a5a5a" stroke-width="0.9"/>
<text x="299.0" y="563.4" font-size="9.8" fill="#2e2e2e" text-anchor="middle" font-family='"Liberation Sans", sans-serif' font-weight="normal" stroke="#2e2e2e" stroke-width="0.35" >0</text>
<line x1="309.27" y1="549.4" x2="309.27" y2="551.6" stroke="#5a5a5a" stroke-width="0.9"/>
<line x1="319.55" y1="549.4" x2="319.55" y2="551.6" stroke="#5a5a5a" stroke-width="0.9"/>
<line x1="329.82" y1="549.4" x2="329.82" y2="551.6" stroke="#5a5a5a" stroke-width="0.9"/>
<line x1="340.10" y1="549.4" x2="340.10" y2="553.9" stroke="#5a5a5a" stroke-width="0.9"/>
<text x="340.1" y="563.4" font-size="9.8" fill="#2e2e2e" text-anchor="middle" font-family='"Liberation Sans", sans-serif' font-weight="normal" stroke="#2e2e2e" stroke-width="0.35" >0.2</text>
<line x1="350.38" y1="549.4" x2="350.38" y2="551.6" stroke="#5a5a5a" stroke-width="0.9"/>
<line x1="360.65" y1="549.4" x2="360.65" y2="551.6" stroke="#5a5a5a" stroke-width="0.9"/>
<line x1="370.93" y1="549.4" x2="370.93" y2="551.6" stroke="#5a5a5a" stroke-width="0.9"/>
<line x1="381.20" y1="549.4" x2="381.20" y2="553.9" stroke="#5a5a5a" stroke-width="0.9"/>
<text x="381.2" y="563.4" font-size="9.8" fill="#2e2e2e" text-anchor="middle" font-family='"Liberation Sans", sans-serif' font-weight="normal" stroke="#2e2e2e" stroke-width="0.35" >0.4</text>
<line x1="391.48" y1="549.4" x2="391.48" y2="551.6" stroke="#5a5a5a" stroke-width="0.9"/>
<line x1="401.75" y1="549.4" x2="401.75" y2="551.6" stroke="#5a5a5a" stroke-width="0.9"/>
<line x1="412.02" y1="549.4" x2="412.02" y2="551.6" stroke="#5a5a5a" stroke-width="0.9"/>
<line x1="422.30" y1="549.4" x2="422.30" y2="553.9" stroke="#5a5a5a" stroke-width="0.9"/>
<text x="422.3" y="563.4" font-size="9.8" fill="#2e2e2e" text-anchor="middle" font-family='"Liberation Sans", sans-serif' font-weight="normal" stroke="#2e2e2e" stroke-width="0.35" >0.6</text>
<line x1="432.58" y1="549.4" x2="432.58" y2="551.6" stroke="#5a5a5a" stroke-width="0.9"/>
<line x1="442.85" y1="549.4" x2="442.85" y2="551.6" stroke="#5a5a5a" stroke-width="0.9"/>
<line x1="453.12" y1="549.4" x2="453.12" y2="551.6" stroke="#5a5a5a" stroke-width="0.9"/>
<line x1="463.40" y1="549.4" x2="463.40" y2="553.9" stroke="#5a5a5a" stroke-width="0.9"/>
<text x="463.4" y="563.4" font-size="9.8" fill="#2e2e2e" text-anchor="middle" font-family='"Liberation Sans", sans-serif' font-weight="normal" stroke="#2e2e2e" stroke-width="0.35" >0.8</text>
<line x1="473.68" y1="549.4" x2="473.68" y2="551.6" stroke="#5a5a5a" stroke-width="0.9"/>
<line x1="483.95" y1="549.4" x2="483.95" y2="551.6" stroke="#5a5a5a" stroke-width="0.9"/>
<text x="386.2" y="572.0" font-size="9.6" fill="#2e2e2e" text-anchor="middle" font-family='"Liberation Sans", sans-serif' font-weight="normal" textLength="62" lengthAdjust="spacingAndGlyphs" stroke="#2e2e2e" stroke-width="0.35" >Distance (mm)</text>
<rect x="298.5" y="469.5" width="191.10000000000002" height="85.89999999999998" fill="none" stroke="#e6ecdc" stroke-width="0.8" stroke-dasharray="1 1.5"/>
<line x1="300.2" y1="484.8" x2="489" y2="484.8" stroke="#e8b0b8" stroke-width="1.15" stroke-dasharray="4.5 3"/>
<line x1="299" y1="506.5" x2="489" y2="506.5" stroke="#8c8c8c" stroke-width="1.25" stroke-dasharray="5 3"/>
<line x1="302.2" y1="528.6" x2="489" y2="528.6" stroke="#7eecec" stroke-width="1.15" stroke-dasharray="7.5 7.5"/>
<line x1="320.1" y1="474.7" x2="320.1" y2="541.3" stroke="#7eecec" stroke-width="1.15" stroke-dasharray="8 7"/>
<line x1="426.7" y1="468" x2="426.7" y2="542.8" stroke="#e8b0b8" stroke-width="1.15" stroke-dasharray="4 4"/>
<polyline points="298.7,531.2 304.0,527.1 307.0,530.1 310.0,531.2 315.2,527.6 319.7,529.1 324.9,526.7 327.9,530.1 331.7,526.7 335.4,531.2 341.4,528.6 345.9,531.2 351.9,529.1 357.9,531.2 361.6,528.2 365.4,533.6 369.8,531.6 375.8,529.1 381.8,527.1 384.1,524.9 387.8,523.7 390.8,527.9 391.5,527.9 396.0,518.9 399.7,506.9 401.2,499.4 404.2,490.4 407.2,485.2 411.0,484.2 420.0,484.5 434.9,484.5 449.9,485.2 464.9,484.9 473.8,485.2 488.8,484.5" fill="none" stroke="#7ce262" stroke-width="1" stroke-linejoin="round"/>
<text x="397" y="597.5" font-size="19.5" fill="#000" text-anchor="middle" font-family='"Liberation Serif", serif' font-weight="bold" >(e)</text>
<line x1="566.4" y1="385.5" x2="566.4" y2="525.7" stroke="#c4c4c4" stroke-width="1.1"/>
<line x1="566.4" y1="525.7" x2="797.8" y2="525.7" stroke="#c4c4c4" stroke-width="1.1"/>
<line x1="561.9" y1="385.50" x2="566.4" y2="385.50" stroke="#c4c4c4" stroke-width="1.1"/>
<text x="554.6" y="389.7" font-size="12" fill="#404040" text-anchor="end" font-family='"Liberation Sans", sans-serif' font-weight="normal" stroke="#404040" stroke-width="0.15" >500.00</text>
<line x1="561.9" y1="413.54" x2="566.4" y2="413.54" stroke="#c4c4c4" stroke-width="1.1"/>
<text x="554.6" y="417.74" font-size="12" fill="#404040" text-anchor="end" font-family='"Liberation Sans", sans-serif' font-weight="normal" stroke="#404040" stroke-width="0.15" >400.00</text>
<line x1="561.9" y1="441.58" x2="566.4" y2="441.58" stroke="#c4c4c4" stroke-width="1.1"/>
<text x="554.6" y="445.78" font-size="12" fill="#404040" text-anchor="end" font-family='"Liberation Sans", sans-serif' font-weight="normal" stroke="#404040" stroke-width="0.15" >300.00</text>
<line x1="561.9" y1="469.62" x2="566.4" y2="469.62" stroke="#c4c4c4" stroke-width="1.1"/>
<text x="554.6" y="473.82" font-size="12" fill="#404040" text-anchor="end" font-family='"Liberation Sans", sans-serif' font-weight="normal" stroke="#404040" stroke-width="0.15" >200.00</text>
<line x1="561.9" y1="497.66" x2="566.4" y2="497.66" stroke="#c4c4c4" stroke-width="1.1"/>
<text x="554.6" y="501.86" font-size="12" fill="#404040" text-anchor="end" font-family='"Liberation Sans", sans-serif' font-weight="normal" stroke="#404040" stroke-width="0.15" >100.00</text>
<line x1="561.9" y1="525.70" x2="566.4" y2="525.70" stroke="#c4c4c4" stroke-width="1.1"/>
<text x="554.6" y="529.9" font-size="12" fill="#404040" text-anchor="end" font-family='"Liberation Sans", sans-serif' font-weight="normal" stroke="#404040" stroke-width="0.15" >0.00</text>
<line x1="566.40" y1="525.7" x2="566.40" y2="530.2" stroke="#c4c4c4" stroke-width="1.1"/>
<text x="566.8" y="546.4" font-size="12" fill="#404040" text-anchor="middle" font-family='"Liberation Sans", sans-serif' font-weight="normal" stroke="#404040" stroke-width="0.15" >0</text>
<line x1="624.25" y1="525.7" x2="624.25" y2="530.2" stroke="#c4c4c4" stroke-width="1.1"/>
<text x="624.65" y="546.4" font-size="12" fill="#404040" text-anchor="middle" font-family='"Liberation Sans", sans-serif' font-weight="normal" stroke="#404040" stroke-width="0.15" >500</text>
<line x1="682.10" y1="525.7" x2="682.10" y2="530.2" stroke="#c4c4c4" stroke-width="1.1"/>
<text x="682.5" y="546.4" font-size="12" fill="#404040" text-anchor="middle" font-family='"Liberation Sans", sans-serif' font-weight="normal" stroke="#404040" stroke-width="0.15" >1000</text>
<line x1="739.95" y1="525.7" x2="739.95" y2="530.2" stroke="#c4c4c4" stroke-width="1.1"/>
<text x="740.35" y="546.4" font-size="12" fill="#404040" text-anchor="middle" font-family='"Liberation Sans", sans-serif' font-weight="normal" stroke="#404040" stroke-width="0.15" >1500</text>
<line x1="797.80" y1="525.7" x2="797.80" y2="530.2" stroke="#c4c4c4" stroke-width="1.1"/>
<text x="798.2" y="546.4" font-size="12" fill="#404040" text-anchor="middle" font-family='"Liberation Sans", sans-serif' font-weight="normal" stroke="#404040" stroke-width="0.15" >2000</text>
<text x="681" y="563.2" font-size="14" fill="#404040" text-anchor="middle" font-family='"Liberation Sans", sans-serif' font-weight="normal" textLength="106" lengthAdjust="spacingAndGlyphs" stroke="#404040" stroke-width="0.15" >Oxidation time (s)</text>
<text x="506.7" y="461" font-size="13.5" fill="#404040" stroke="#404040" stroke-width="0.15" text-anchor="middle" font-family='"Liberation Sans", sans-serif' transform="rotate(-90 506.7 461)" dy="4.9" textLength="125" lengthAdjust="spacingAndGlyphs">Oxidation depth (nm)</text>
<polygon points="569.9,504.5 573.4,508 569.9,511.5 566.4,508" fill="#2c7a8a" stroke="#3a6e80" stroke-width="0.5"/>
<polygon points="573.4,492.2 576.9,495.7 573.4,499.2 569.9,495.7" fill="#2c7a8a" stroke="#3a6e80" stroke-width="0.5"/>
<polygon points="587.4,474.5 590.9,478 587.4,481.5 583.9,478" fill="#2c7a8a" stroke="#3a6e80" stroke-width="0.5"/>
<polygon points="600.8,455.7 604.3,459.2 600.8,462.7 597.3,459.2" fill="#2c7a8a" stroke="#3a6e80" stroke-width="0.5"/>
<polygon points="773.9,393.6 777.4,397.1 773.9,400.6 770.4,397.1" fill="#2c7a8a" stroke="#3a6e80" stroke-width="0.5"/>
<text x="682.5" y="597.5" font-size="19.5" fill="#000" text-anchor="middle" font-family='"Liberation Serif", serif' font-weight="bold" >(f)</text>
</svg></body></html>
